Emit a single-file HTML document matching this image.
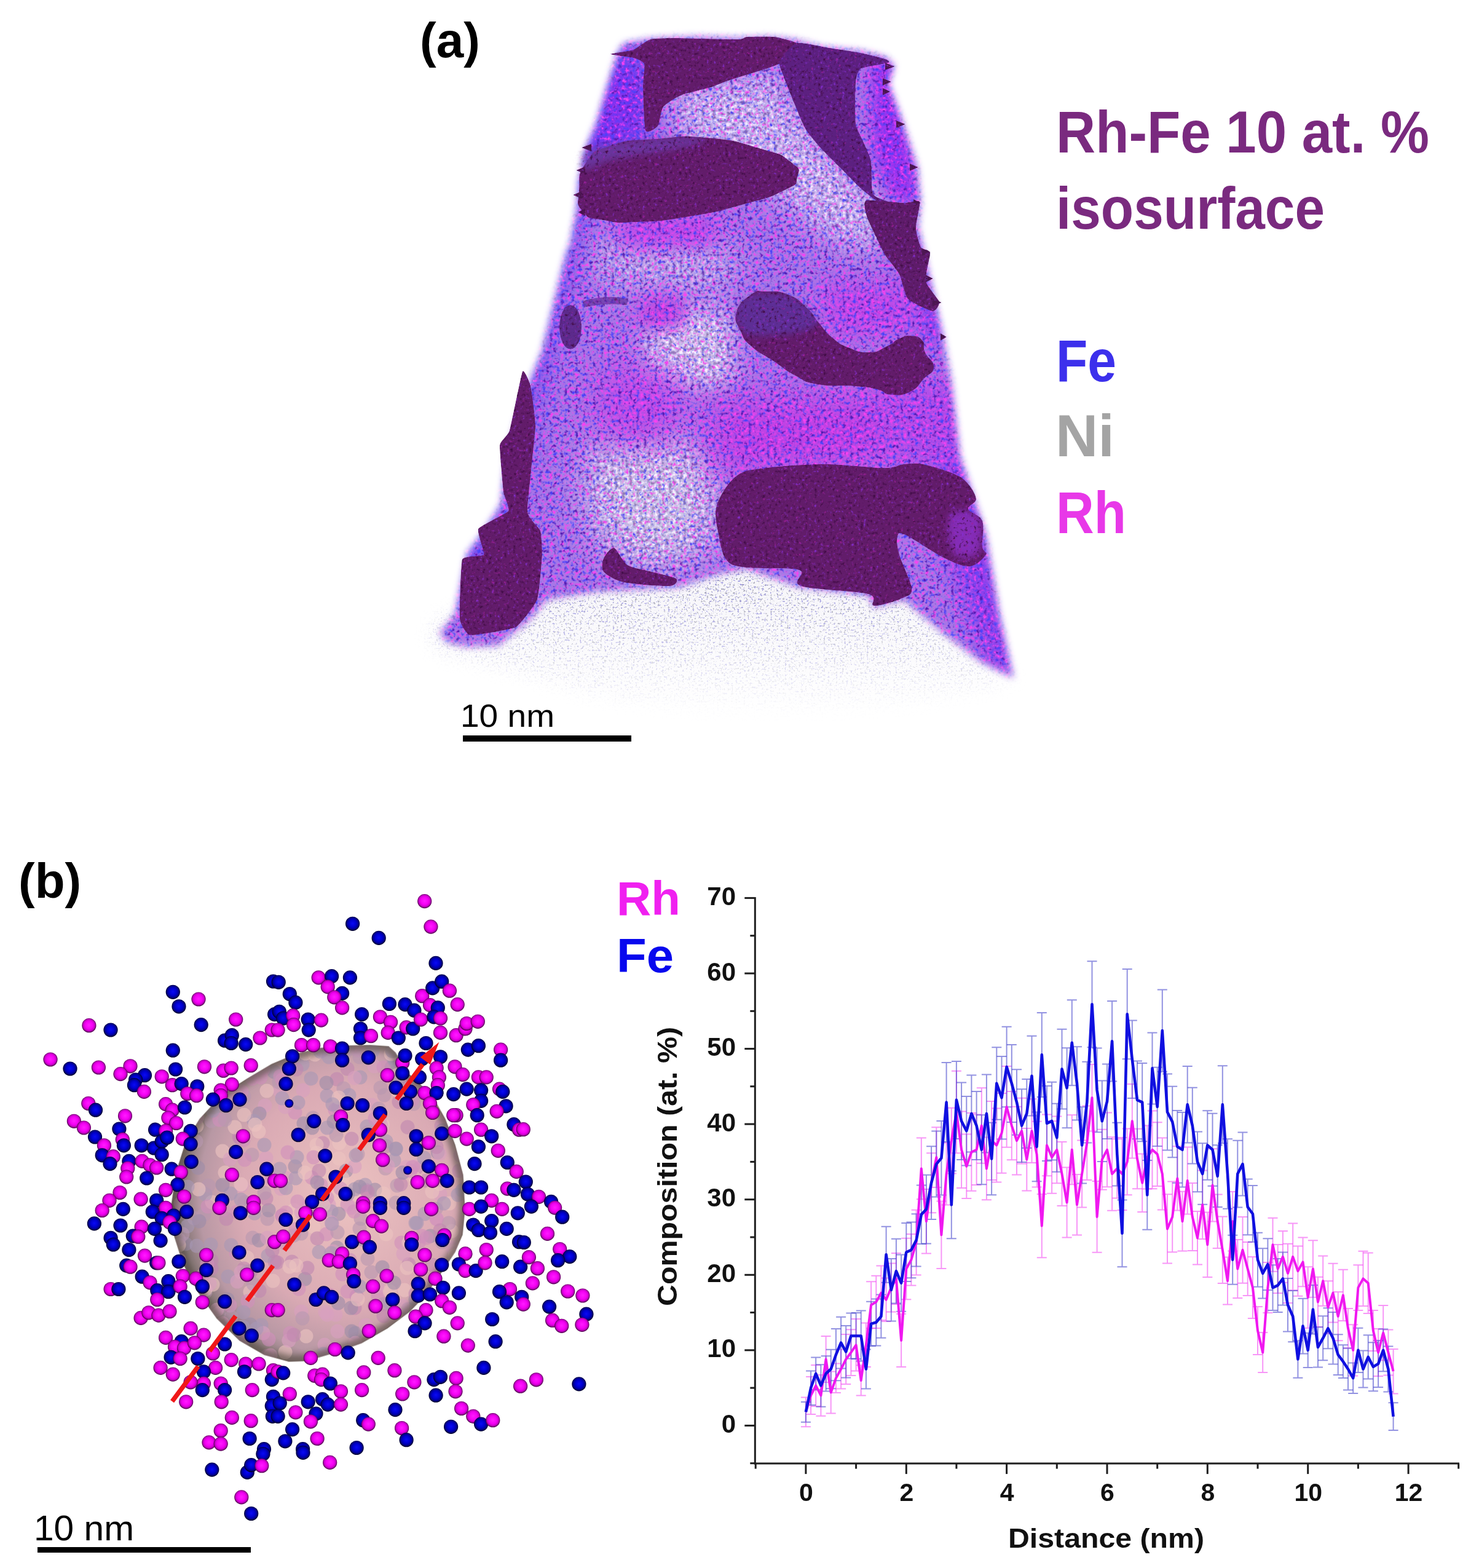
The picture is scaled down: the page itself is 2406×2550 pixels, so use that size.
<!DOCTYPE html><html><head><meta charset="utf-8"><style>html,body{margin:0;padding:0;background:#fff;width:2406px;height:2550px;overflow:hidden}svg{display:block}</style></head><body>
<svg width="2406" height="2550" viewBox="0 0 2406 2550">
<rect width="2406" height="2550" fill="#fff"/>
<defs>
<clipPath id="envc"><polygon points="1005.0,85.0 1015.0,70.0 1060.0,62.0 1130.0,59.0 1200.0,61.0 1250.0,59.0 1290.0,63.0 1340.0,76.0 1400.0,82.0 1440.0,92.0 1455.0,106.0 1446.0,136.0 1469.0,200.0 1493.0,272.0 1498.0,330.0 1494.0,370.0 1512.0,450.0 1535.0,550.0 1548.0,620.0 1562.0,742.0 1604.0,870.0 1626.0,998.0 1649.0,1103.0 1598.0,1078.0 1534.0,1030.0 1470.0,975.0 1422.0,988.0 1412.0,968.0 1300.0,955.0 1214.0,925.0 1165.0,935.0 1104.0,955.0 970.0,962.0 890.0,975.0 860.0,1010.0 810.0,1050.0 760.0,1052.0 728.0,1045.0 715.0,1030.0 740.0,1000.0 748.0,960.0 760.0,900.0 790.0,860.0 815.0,820.0 825.0,735.0 849.0,654.0 870.0,600.0 881.0,573.0 901.0,492.0 921.0,411.0 927.0,398.0 938.0,340.0 941.0,296.0 954.0,238.0 970.0,200.0 989.0,136.0"/></clipPath>
<filter id="envsoft" filterUnits="userSpaceOnUse" x="600" y="0" width="1200" height="1250"><feGaussianBlur stdDeviation="6"/></filter>
<mask id="envm" maskUnits="userSpaceOnUse" x="600" y="0" width="1200" height="1250"><polygon points="1005.0,85.0 1015.0,70.0 1060.0,62.0 1130.0,59.0 1200.0,61.0 1250.0,59.0 1290.0,63.0 1340.0,76.0 1400.0,82.0 1440.0,92.0 1455.0,106.0 1446.0,136.0 1469.0,200.0 1493.0,272.0 1498.0,330.0 1494.0,370.0 1512.0,450.0 1535.0,550.0 1548.0,620.0 1562.0,742.0 1604.0,870.0 1626.0,998.0 1649.0,1103.0 1598.0,1078.0 1534.0,1030.0 1470.0,975.0 1422.0,988.0 1412.0,968.0 1300.0,955.0 1214.0,925.0 1165.0,935.0 1104.0,955.0 970.0,962.0 890.0,975.0 860.0,1010.0 810.0,1050.0 760.0,1052.0 728.0,1045.0 715.0,1030.0 740.0,1000.0 748.0,960.0 760.0,900.0 790.0,860.0 815.0,820.0 825.0,735.0 849.0,654.0 870.0,600.0 881.0,573.0 901.0,492.0 921.0,411.0 927.0,398.0 938.0,340.0 941.0,296.0 954.0,238.0 970.0,200.0 989.0,136.0" fill="#fff" filter="url(#envsoft)"/></mask>
<filter id="bl6" filterUnits="userSpaceOnUse" x="600" y="0" width="1200" height="1250"><feGaussianBlur stdDeviation="6"/></filter>
<filter id="bl12" filterUnits="userSpaceOnUse" x="600" y="0" width="1200" height="1250"><feGaussianBlur stdDeviation="12"/></filter>
<filter id="bl15" filterUnits="userSpaceOnUse" x="600" y="0" width="1200" height="1250"><feGaussianBlur stdDeviation="15"/></filter>
<filter id="bl18" filterUnits="userSpaceOnUse" x="600" y="0" width="1200" height="1250"><feGaussianBlur stdDeviation="18"/></filter>
<filter id="bl20" filterUnits="userSpaceOnUse" x="600" y="0" width="1200" height="1250"><feGaussianBlur stdDeviation="20"/></filter>
<filter id="bl25" filterUnits="userSpaceOnUse" x="600" y="0" width="1200" height="1250"><feGaussianBlur stdDeviation="25"/></filter>
<filter id="bl30" filterUnits="userSpaceOnUse" x="600" y="0" width="1200" height="1250"><feGaussianBlur stdDeviation="30"/></filter>
<filter id="tex" filterUnits="userSpaceOnUse" x="600" y="0" width="1200" height="1250" color-interpolation-filters="sRGB">
<feTurbulence type="fractalNoise" baseFrequency="0.17" numOctaves="2" seed="4" result="n"/>
<feColorMatrix in="SourceGraphic" type="matrix" values="0 0 0 0 1  0 0 0 0 1  0 0 0 0 1  1.6 3.2 0.6 0 -3.1" result="Lm"/>
<feColorMatrix in="SourceGraphic" type="matrix" values="0 0 0 0 1  0 0 0 0 1  0 0 0 0 1  -1.6 -3.2 -0.6 0 4.4" result="Dm"/>
<feColorMatrix in="n" type="matrix" values="0 0 0 0 0.97  0 0 0 0 0.94  0 0 0 0 1  4 0 0 0 -2.05" result="lt0"/>
<feComposite in="lt0" in2="Lm" operator="in" result="lt"/>
<feColorMatrix in="n" type="matrix" values="0 0 0 0 0.62  0 0 0 0 0.58  0 0 0 0 0.7  -4 0 0 0 1.75" result="gy0"/>
<feComposite in="gy0" in2="Lm" operator="in" result="gy"/>
<feColorMatrix in="n" type="matrix" values="0 0 0 0 0.32  0 0 0 0 0.1  0 0 0 0 0.7  -4 0 0 0 1.75" result="dk0"/>
<feComposite in="dk0" in2="Dm" operator="in" result="dk"/>
<feColorMatrix in="n" type="matrix" values="0 0 0 0 0.30  0 0 0 0 0.26  0 0 0 0 0.98  0 4 0 0 -2.15" result="bl"/>
<feColorMatrix in="n" type="matrix" values="0 0 0 0 0.98  0 0 0 0 0.25  0 0 0 0 0.95  0 -4 0 0 1.85" result="mg"/>
<feMerge result="m"><feMergeNode in="SourceGraphic"/><feMergeNode in="bl"/><feMergeNode in="mg"/><feMergeNode in="lt"/><feMergeNode in="gy"/><feMergeNode in="dk"/></feMerge>
<feComposite in="m" in2="SourceGraphic" operator="in"/>
</filter>
<filter id="btex" filterUnits="userSpaceOnUse" x="600" y="0" width="1200" height="1250" color-interpolation-filters="sRGB">
<feTurbulence type="fractalNoise" baseFrequency="0.2" numOctaves="2" seed="9" result="n"/>
<feColorMatrix in="n" type="matrix" values="0 0 0 0 0.52  0 0 0 0 0.18  0 0 0 0 0.82  4 0 0 0 -2.5" result="a"/>
<feColorMatrix in="n" type="matrix" values="0 0 0 0 0.62  0 0 0 0 0.12  0 0 0 0 0.6  0 4 0 0 -2.6" result="c"/>
<feColorMatrix in="n" type="matrix" values="0 0 0 0 0.26  0 0 0 0 0.05  0 0 0 0 0.28  -4 0 0 0 1.7" result="b"/>
<feMerge result="m"><feMergeNode in="SourceGraphic"/><feMergeNode in="a"/><feMergeNode in="c"/><feMergeNode in="b"/></feMerge>
<feComposite in="m" in2="SourceGraphic" operator="in"/>
</filter>
<filter id="sparsef" filterUnits="userSpaceOnUse" x="600" y="880" width="1200" height="320" color-interpolation-filters="sRGB">
<feTurbulence type="fractalNoise" baseFrequency="0.3" numOctaves="2" seed="3" result="n"/>
<feColorMatrix in="n" type="matrix" values="0 0 0 0 0.6  0 0 0 0 0.6  0 0 0 0 0.68  8 0 0 0 -4.9" result="g"/>
<feColorMatrix in="n" type="matrix" values="0 0 0 0 0.55  0 0 0 0 0.53  0 0 0 0 0.85  0 8 0 0 -5.0" result="b"/>
<feMerge result="m"><feMergeNode in="g"/><feMergeNode in="b"/></feMerge>
<feComposite in="m" in2="SourceGraphic" operator="in"/>
</filter>
<linearGradient id="spg" gradientUnits="userSpaceOnUse" x1="0" y1="930" x2="0" y2="1160"><stop offset="0" stop-color="#fff" stop-opacity="1"/><stop offset="0.45" stop-color="#fff" stop-opacity="0.55"/><stop offset="1" stop-color="#fff" stop-opacity="0"/></linearGradient>
<mask id="spm" maskUnits="userSpaceOnUse" x="600" y="880" width="1200" height="320"><polygon points="700.0,1040.0 715.0,1010.0 760.0,990.0 860.0,960.0 970.0,945.0 1104.0,940.0 1165.0,920.0 1214.0,910.0 1300.0,940.0 1412.0,950.0 1470.0,960.0 1534.0,1020.0 1598.0,1070.0 1655.0,1105.0 1500.0,1140.0 1340.0,1158.0 1126.0,1158.0 966.0,1132.0 860.0,1096.0 716.0,1058.0" fill="url(#spg)" filter="url(#bl15)"/></mask>
</defs>
<g mask="url(#spm)"><rect x="600" y="880" width="1200" height="320" fill="#eeecf4" opacity="0.55"/><rect x="600" y="880" width="1200" height="320" fill="#000" filter="url(#sparsef)"/></g>
<g mask="url(#envm)"><g filter="url(#tex)">
<rect x="600" y="0" width="1200" height="1250" fill="#a878e6"/>
<polygon points="995.0,70.0 1050.0,70.0 1050.0,230.0 960.0,300.0 930.0,420.0 900.0,520.0 870.0,640.0 840.0,760.0 800.0,880.0 740.0,1000.0 700.0,1000.0 900.0,60.0" fill="#6a3cf0" filter="url(#bl25)"/>
<polygon points="960.0,120.0 1045.0,110.0 1045.0,220.0 960.0,240.0" fill="#8030f0" filter="url(#bl18)"/>
<polygon points="1415.0,95.0 1465.0,100.0 1495.0,330.0 1450.0,330.0 1420.0,250.0" fill="#9a30f0" filter="url(#bl12)"/>
<polygon points="1470.0,380.0 1540.0,380.0 1560.0,560.0 1500.0,560.0" fill="#8a38ee" filter="url(#bl20)"/>
<polygon points="1500.0,640.0 1580.0,640.0 1660.0,1100.0 1610.0,1100.0 1540.0,900.0" fill="#8e3cec" filter="url(#bl20)"/>
<polygon points="1090.0,150.0 1260.0,120.0 1300.0,200.0 1380.0,280.0 1450.0,360.0 1410.0,410.0 1330.0,370.0 1260.0,310.0 1200.0,255.0 1110.0,225.0" fill="#c4b4ec" filter="url(#bl25)"/>
<polygon points="960.0,390.0 1150.0,380.0 1210.0,430.0 1160.0,475.0 1050.0,470.0 980.0,460.0" fill="#b8a4e6" filter="url(#bl25)"/>
<polygon points="1050.0,512.0 1180.0,505.0 1195.0,628.0 1055.0,632.0" fill="#ccc4e8" filter="url(#bl20)"/>
<polygon points="1040.0,485.0 1112.0,483.0 1112.0,533.0 1040.0,535.0" fill="#c040e0" filter="url(#bl15)"/>
<polygon points="965.0,720.0 1100.0,700.0 1170.0,760.0 1150.0,900.0 1060.0,920.0 995.0,900.0 955.0,820.0" fill="#c8c2e4" filter="url(#bl30)"/>
<polygon points="1000.0,355.0 1170.0,350.0 1160.0,400.0 1010.0,400.0" fill="#c040e8" filter="url(#bl18)"/>
<polygon points="970.0,600.0 1110.0,600.0 1100.0,720.0 980.0,720.0" fill="#c048e6" filter="url(#bl30)"/>
<polygon points="1150.0,650.0 1450.0,640.0 1480.0,700.0 1430.0,760.0 1160.0,770.0" fill="#c040e4" filter="url(#bl30)"/>
<polygon points="1330.0,460.0 1480.0,460.0 1500.0,540.0 1350.0,550.0" fill="#bc48e8" filter="url(#bl20)"/>
<polygon points="1420.0,620.0 1560.0,620.0 1580.0,760.0 1440.0,760.0" fill="#b44ce8" filter="url(#bl25)"/>
</g></g>
<g filter="url(#btex)">
<path d="M993.0,88.0C993.0,86.7 1023.5,83.4 1030.0,81.0C1036.5,78.6 1051.0,65.9 1058.0,64.0C1065.0,62.1 1085.8,62.0 1100.0,62.0C1114.2,62.0 1188.5,64.2 1200.0,64.0C1211.5,63.8 1209.0,60.4 1215.0,60.0C1221.0,59.6 1251.9,59.0 1260.0,60.0C1268.1,61.0 1292.4,67.0 1296.0,70.0C1299.6,73.0 1300.4,86.0 1296.0,90.0C1291.6,94.0 1262.8,106.0 1252.0,110.0C1241.2,114.0 1197.6,126.8 1188.0,130.0C1178.4,133.2 1164.0,139.5 1156.0,142.0C1148.0,144.5 1115.7,151.8 1108.0,155.0C1100.3,158.2 1082.8,169.0 1079.0,174.0C1075.2,179.0 1072.9,201.2 1070.0,205.0C1067.1,208.8 1052.4,218.5 1050.0,212.0C1047.6,205.5 1046.2,150.8 1046.0,140.0C1045.8,129.2 1049.6,108.6 1048.0,104.0C1046.4,99.4 1035.5,95.6 1030.0,94.0C1024.5,92.4 993.0,89.3 993.0,88.0Z" fill="#621c6a"/>
<path d="M942.0,310.0C943.5,286.3 937.7,286.9 953.0,265.0C968.3,243.1 959.1,248.7 993.0,237.0C1026.9,225.3 1018.6,229.9 1066.0,226.0C1113.4,222.1 1100.3,219.5 1151.0,224.0C1201.7,228.5 1194.5,229.3 1235.0,241.0C1275.5,252.7 1267.4,248.9 1286.0,263.0C1304.6,277.1 1300.3,273.9 1297.0,288.0C1293.7,302.1 1302.0,296.5 1275.0,310.0C1248.0,323.5 1252.9,320.4 1207.0,333.0C1161.1,345.6 1172.7,343.6 1122.0,352.0C1071.3,360.4 1080.0,359.2 1038.0,361.0C996.0,362.8 1009.0,363.1 982.0,358.0C955.0,352.9 960.0,358.4 948.0,344.0C936.0,329.6 940.5,333.7 942.0,310.0Z" fill="#621c6a"/>
<path d="M1296.0,70.0C1304.2,67.8 1339.6,76.4 1350.0,78.0C1360.4,79.6 1391.0,84.2 1400.0,86.0C1409.0,87.8 1435.5,94.4 1440.0,96.0C1444.5,97.6 1449.0,100.4 1445.0,102.0C1441.0,103.6 1405.3,108.7 1400.0,112.0C1394.7,115.3 1392.8,126.2 1392.0,135.0C1391.2,143.8 1390.7,190.3 1392.0,200.0C1393.3,209.7 1402.5,225.8 1405.0,232.0C1407.5,238.2 1415.5,253.7 1417.0,262.0C1418.5,270.3 1417.2,308.4 1420.0,315.0C1422.8,321.6 1441.4,325.9 1445.0,328.0C1448.6,330.1 1457.1,335.6 1456.0,336.0C1454.9,336.4 1439.4,334.8 1434.0,332.0C1428.6,329.2 1408.4,313.6 1402.0,308.0C1395.6,302.4 1376.4,282.4 1370.0,276.0C1363.6,269.6 1343.9,250.5 1338.0,244.0C1332.1,237.5 1315.6,218.6 1311.0,211.0C1306.4,203.4 1295.6,176.6 1292.0,168.0C1288.4,159.4 1277.4,131.8 1275.0,125.0C1272.6,118.2 1265.9,105.5 1268.0,100.0C1270.1,94.5 1287.8,72.2 1296.0,70.0Z" fill="#5c2080"/>
<path d="M1409.0,326.0C1415.0,323.8 1461.3,329.8 1470.0,330.0C1478.7,330.2 1494.0,324.0 1496.0,328.0C1498.0,332.0 1489.8,362.6 1490.0,370.0C1490.2,377.4 1495.7,397.9 1498.0,402.0C1500.3,406.1 1512.2,405.5 1513.0,411.0C1513.8,416.5 1504.5,449.0 1506.0,457.0C1507.5,465.0 1526.9,486.1 1528.0,491.0C1529.1,495.9 1522.1,506.5 1517.0,506.0C1511.9,505.5 1482.4,492.0 1477.0,486.0C1471.6,480.0 1466.7,453.1 1463.0,446.0C1459.3,438.9 1443.8,421.1 1440.0,415.0C1436.2,408.9 1428.0,391.3 1425.0,385.0C1422.0,378.7 1411.6,357.9 1410.0,352.0C1408.4,346.1 1403.0,328.2 1409.0,326.0Z" fill="#5e1c6a"/>
<path d="M1198.0,508.0C1202.5,492.0 1209.2,488.1 1222.0,479.0C1234.8,469.9 1230.0,474.0 1246.0,474.0C1262.0,474.0 1264.1,471.8 1282.0,479.0C1299.9,486.2 1299.7,488.7 1313.0,501.0C1326.3,513.3 1321.1,512.2 1332.0,525.0C1342.9,537.8 1341.2,538.3 1354.0,549.0C1366.8,559.7 1364.0,558.6 1380.0,565.0C1396.0,571.4 1397.2,573.5 1414.0,573.0C1430.8,572.5 1430.2,568.9 1443.0,563.0C1455.8,557.1 1451.9,555.5 1462.0,551.0C1472.1,546.5 1470.9,545.5 1481.0,546.0C1491.1,546.5 1493.6,545.8 1500.0,553.0C1506.4,560.2 1499.9,561.3 1505.0,573.0C1510.1,584.7 1519.5,585.5 1519.0,597.0C1518.5,608.5 1513.1,605.3 1503.0,616.0C1492.9,626.7 1495.1,630.1 1481.0,637.0C1466.9,643.9 1464.7,643.1 1450.0,642.0C1435.3,640.9 1442.0,636.7 1426.0,633.0C1410.0,629.3 1415.6,630.1 1390.0,628.0C1364.4,625.9 1355.6,629.5 1330.0,625.0C1304.4,620.5 1313.2,621.1 1294.0,611.0C1274.8,600.9 1277.2,599.8 1258.0,587.0C1238.8,574.2 1236.1,575.8 1222.0,563.0C1207.9,550.2 1211.4,553.7 1205.0,539.0C1198.6,524.3 1193.5,524.0 1198.0,508.0Z" fill="#621c6a"/>
<path d="M1198.0,774.0C1184.7,784.2 1170.8,806.0 1166.0,822.0C1161.2,838.0 1166.3,855.2 1169.0,870.0C1171.7,884.8 1174.5,902.2 1182.0,911.0C1189.5,919.8 1194.3,920.3 1214.0,923.0C1233.7,925.7 1285.2,922.0 1300.0,927.0C1314.8,932.0 1284.3,946.5 1303.0,953.0C1321.7,959.5 1392.2,960.7 1412.0,966.0C1431.8,971.3 1412.3,984.0 1422.0,985.0C1431.7,986.0 1459.8,976.8 1470.0,972.0C1480.2,967.2 1484.2,967.7 1483.0,956.0C1481.8,944.3 1466.8,915.8 1463.0,902.0C1459.2,888.2 1458.3,878.3 1460.0,873.0C1461.7,867.7 1460.2,864.2 1473.0,870.0C1485.8,875.8 1519.5,899.5 1537.0,908.0C1554.5,916.5 1566.8,922.0 1578.0,921.0C1589.2,920.0 1600.7,907.3 1604.0,902.0C1607.3,896.7 1599.0,898.2 1598.0,889.0C1597.0,879.8 1601.8,857.2 1598.0,847.0C1594.2,836.8 1576.7,833.8 1575.0,828.0C1573.3,822.2 1588.0,818.8 1588.0,812.0C1588.0,805.2 1580.8,793.8 1575.0,787.0C1569.2,780.2 1565.2,776.3 1553.0,771.0C1540.8,765.7 1515.8,757.7 1502.0,755.0C1488.2,752.3 1480.7,754.0 1470.0,755.0C1459.3,756.0 1459.3,761.0 1438.0,761.0C1416.7,761.0 1374.0,755.0 1342.0,755.0C1310.0,755.0 1270.0,757.8 1246.0,761.0C1222.0,764.2 1211.3,763.8 1198.0,774.0Z" fill="#621c6a"/>
<path d="M850.0,604.0C852.3,599.1 861.6,621.0 863.0,627.0C864.4,633.0 871.3,680.4 871.0,694.0C870.7,707.6 857.5,819.7 858.0,831.0C858.5,842.3 877.4,858.3 879.0,863.0C880.6,867.7 882.3,894.5 882.0,902.0C881.7,909.5 876.9,967.1 874.0,975.0C871.1,982.9 846.3,1016.1 839.0,1020.0C831.7,1023.9 771.1,1033.9 765.0,1033.0C758.9,1032.1 748.9,1015.2 748.0,1007.0C747.1,998.8 749.4,917.0 752.0,910.0C754.6,903.0 785.3,905.3 787.0,902.0C788.7,898.7 775.3,864.7 778.0,860.0C780.7,855.3 824.3,835.0 827.0,831.0C829.7,827.0 819.9,807.1 819.0,800.0C818.1,792.9 812.3,730.7 813.0,724.0C813.7,717.3 826.5,708.0 829.0,700.0C831.5,692.0 847.7,608.9 850.0,604.0Z" fill="#621c6a"/>
<path d="M982.0,908.0C984.3,902.8 993.8,889.5 999.0,891.0C1004.2,892.5 1012.7,913.8 1021.0,919.0C1029.3,924.2 1050.5,927.1 1061.0,930.0C1071.5,932.9 1096.3,937.9 1100.0,941.0C1103.7,944.1 1100.3,952.2 1089.0,953.0C1077.7,953.8 1029.3,950.1 1015.0,947.0C1000.7,943.9 986.4,935.2 982.0,930.0C977.6,924.8 979.7,913.2 982.0,908.0Z" fill="#621c6a"/>
<path d="M955.0,240.0C970.8,230.6 1000.0,231.4 1029.0,228.0C1058.0,224.6 1075.8,223.4 1100.0,223.0C1124.2,222.6 1148.0,222.6 1150.0,226.0C1152.0,229.4 1132.0,234.8 1110.0,240.0C1088.0,245.2 1064.0,247.6 1040.0,252.0C1016.0,256.4 1008.0,257.4 990.0,262.0C972.0,266.6 957.0,279.4 950.0,275.0C943.0,270.6 939.2,249.4 955.0,240.0Z" fill="#6a3aa8" opacity="0.8" filter="url(#bl6)"/>
<path d="M1197.0,505.0C1199.4,493.0 1205.4,485.0 1222.0,480.0C1238.6,475.0 1260.8,475.8 1280.0,480.0C1299.2,484.2 1308.0,492.0 1318.0,501.0C1328.0,510.0 1333.6,517.2 1330.0,525.0C1326.4,532.8 1316.0,536.0 1300.0,540.0C1284.0,544.0 1268.0,545.0 1250.0,545.0C1232.0,545.0 1220.6,548.0 1210.0,540.0C1199.4,532.0 1194.6,517.0 1197.0,505.0Z" fill="#5c34a4" opacity="0.75" filter="url(#bl6)"/>
<ellipse cx="928" cy="532" rx="18" ry="36" fill="#5c2a8c"/>
<path d="M1548.0,835.0C1557.0,826.6 1580.4,831.0 1590.0,838.0C1599.6,845.0 1596.0,857.6 1596.0,870.0C1596.0,882.4 1597.2,893.0 1590.0,900.0C1582.8,907.0 1569.0,909.0 1560.0,905.0C1551.0,901.0 1547.4,894.0 1545.0,880.0C1542.6,866.0 1539.0,843.4 1548.0,835.0Z" fill="#9030d0" opacity="0.75" filter="url(#bl6)"/>
<polygon points="1440,102 1456,108 1440,114" fill="#4c1652"/>
<polygon points="1436,127 1450,133 1436,139" fill="#4c1652"/>
<polygon points="1436,143 1448,149 1436,155" fill="#4c1652"/>
<polygon points="1458,196 1473,202 1458,208" fill="#4c1652"/>
<polygon points="1480,266 1494,272 1480,278" fill="#4c1652"/>
<polygon points="1486,324 1498,330 1486,336" fill="#4c1652"/>
<polygon points="1500,404 1514,410 1500,416" fill="#4c1652"/>
<polygon points="1506,447 1518,453 1506,459" fill="#4c1652"/>
<polygon points="1518,486 1532,492 1518,498" fill="#4c1652"/>
<polygon points="1530,542 1540,548 1530,554" fill="#4c1652"/>
<polygon points="962,234 946,240 962,246" fill="#4c1652"/>
<polygon points="952,271 937,277 952,283" fill="#4c1652"/>
<polygon points="946,311 932,317 946,323" fill="#4c1652"/>
<polygon points="952,339 940,345 952,351" fill="#4c1652"/>
<path d="M948,490 Q985,478 1022,486 L1020,496 Q985,492 950,500Z" fill="#5a2a96" opacity="0.8"/>
</g>
<text x="683" y="93" font-family="Liberation Sans, Arial, sans-serif" font-weight="bold" font-size="80" fill="#000">(a)</text>
<text x="1718" y="248" font-family="Liberation Sans, Arial, sans-serif" font-weight="bold" font-size="96" fill="#7a2a7f" textLength="607" lengthAdjust="spacingAndGlyphs">Rh-Fe 10 at. %</text>
<text x="1718" y="372" font-family="Liberation Sans, Arial, sans-serif" font-weight="bold" font-size="96" fill="#7a2a7f" textLength="437" lengthAdjust="spacingAndGlyphs">isosurface</text>
<text x="1718" y="620" font-family="Liberation Sans, Arial, sans-serif" font-weight="bold" font-size="96" fill="#3c30ec" textLength="98" lengthAdjust="spacingAndGlyphs">Fe</text>
<text x="1717" y="742" font-family="Liberation Sans, Arial, sans-serif" font-weight="bold" font-size="96" fill="#a4a4a4" textLength="96" lengthAdjust="spacingAndGlyphs">Ni</text>
<text x="1718" y="867" font-family="Liberation Sans, Arial, sans-serif" font-weight="bold" font-size="96" fill="#e838e8" textLength="114" lengthAdjust="spacingAndGlyphs">Rh</text>
<text x="749" y="1182" font-family="Liberation Sans, Arial, sans-serif" font-size="52" fill="#000" textLength="153" lengthAdjust="spacingAndGlyphs">10 nm</text>
<rect x="753" y="1196" width="274" height="10" fill="#000"/>
<text x="30" y="1460" font-family="Liberation Sans, Arial, sans-serif" font-weight="bold" font-size="80" fill="#000">(b)</text>
<text x="55" y="2505" font-family="Liberation Sans, Arial, sans-serif" font-size="58" fill="#000" textLength="163" lengthAdjust="spacingAndGlyphs">10 nm</text>
<rect x="61" y="2516" width="347" height="9" fill="#000"/>
<text x="1003" y="1488" font-family="Liberation Sans, Arial, sans-serif" font-weight="bold" font-size="77" fill="#f020f0" textLength="104" lengthAdjust="spacingAndGlyphs">Rh</text>
<text x="1003" y="1581" font-family="Liberation Sans, Arial, sans-serif" font-weight="bold" font-size="77" fill="#0808ee" textLength="93" lengthAdjust="spacingAndGlyphs">Fe</text>
<defs>
<clipPath id="partc"><polygon points="278.0,1967.0 287.0,1906.0 303.0,1856.0 325.0,1820.0 361.0,1781.0 403.0,1754.0 442.0,1731.0 480.0,1715.0 519.0,1705.0 560.0,1701.0 602.0,1700.0 632.0,1702.0 643.0,1712.0 663.0,1745.0 702.0,1781.0 724.0,1820.0 740.0,1862.0 753.0,1911.0 756.0,1967.0 752.0,2008.0 740.0,2036.0 718.0,2069.0 693.0,2105.0 666.0,2133.0 630.0,2160.0 588.0,2184.0 543.0,2200.0 498.0,2213.0 470.0,2214.0 430.0,2203.0 390.0,2180.0 353.0,2144.0 323.0,2102.0 298.0,2055.0 284.0,2011.0"/></clipPath>
<filter id="rimblur" filterUnits="userSpaceOnUse" x="200" y="1600" width="650" height="700"><feGaussianBlur stdDeviation="5"/></filter>
<radialGradient id="pg" cx="0.6" cy="0.48" r="0.6"><stop offset="0" stop-color="#ecc2c0"/><stop offset="0.6" stop-color="#daaab4"/><stop offset="0.84" stop-color="#b898a4"/><stop offset="0.95" stop-color="#827472"/><stop offset="1" stop-color="#5c524e"/></radialGradient>
<radialGradient id="gm" cx="0.5" cy="0.48" r="0.5"><stop offset="0" stop-color="#ff1cff"/><stop offset="0.55" stop-color="#f400f4"/><stop offset="0.8" stop-color="#c800c8"/><stop offset="0.93" stop-color="#80007e"/><stop offset="1" stop-color="#500050"/></radialGradient>
<radialGradient id="gb" cx="0.5" cy="0.48" r="0.5"><stop offset="0" stop-color="#0a0af4"/><stop offset="0.5" stop-color="#0000d0"/><stop offset="0.8" stop-color="#00008e"/><stop offset="0.93" stop-color="#000050"/><stop offset="1" stop-color="#000028"/></radialGradient>
</defs>
<polygon points="278.0,1967.0 287.0,1906.0 303.0,1856.0 325.0,1820.0 361.0,1781.0 403.0,1754.0 442.0,1731.0 480.0,1715.0 519.0,1705.0 560.0,1701.0 602.0,1700.0 632.0,1702.0 643.0,1712.0 663.0,1745.0 702.0,1781.0 724.0,1820.0 740.0,1862.0 753.0,1911.0 756.0,1967.0 752.0,2008.0 740.0,2036.0 718.0,2069.0 693.0,2105.0 666.0,2133.0 630.0,2160.0 588.0,2184.0 543.0,2200.0 498.0,2213.0 470.0,2214.0 430.0,2203.0 390.0,2180.0 353.0,2144.0 323.0,2102.0 298.0,2055.0 284.0,2011.0" fill="url(#pg)" stroke="#7a6a66" stroke-width="2" stroke-opacity="0.6"/>
<g clip-path="url(#partc)">
<circle cx="495" cy="1988" r="11.5" fill="#ecc4c0" opacity="0.62"/>
<circle cx="502" cy="1961" r="11.5" fill="#d8a0c0" opacity="0.62"/>
<circle cx="370" cy="2113" r="11.5" fill="#9c8ca8" opacity="0.62"/>
<circle cx="580" cy="2108" r="11.5" fill="#c088b0" opacity="0.62"/>
<circle cx="493" cy="1773" r="11.5" fill="#d8a0c0" opacity="0.62"/>
<circle cx="665" cy="2056" r="11.5" fill="#c088b0" opacity="0.62"/>
<circle cx="563" cy="1904" r="11.5" fill="#9c8ca8" opacity="0.62"/>
<circle cx="591" cy="2016" r="11.5" fill="#a898b4" opacity="0.62"/>
<circle cx="577" cy="2127" r="11.5" fill="#c088b0" opacity="0.62"/>
<circle cx="308" cy="1798" r="11.5" fill="#a898b4" opacity="0.62"/>
<circle cx="565" cy="2100" r="11.5" fill="#d090bc" opacity="0.62"/>
<circle cx="490" cy="2133" r="11.5" fill="#d8a0c0" opacity="0.62"/>
<circle cx="391" cy="1851" r="11.5" fill="#c088b0" opacity="0.62"/>
<circle cx="595" cy="1935" r="11.5" fill="#d090bc" opacity="0.62"/>
<circle cx="474" cy="1983" r="11.5" fill="#ecc4c0" opacity="0.62"/>
<circle cx="320" cy="1831" r="11.5" fill="#ecc4c0" opacity="0.62"/>
<circle cx="389" cy="1849" r="11.5" fill="#c088b0" opacity="0.62"/>
<circle cx="548" cy="1755" r="11.5" fill="#c088b0" opacity="0.62"/>
<circle cx="683" cy="1899" r="11.5" fill="#c088b0" opacity="0.62"/>
<circle cx="683" cy="1700" r="11.5" fill="#a898b4" opacity="0.62"/>
<circle cx="721" cy="1727" r="11.5" fill="#9c8ca8" opacity="0.62"/>
<circle cx="747" cy="1904" r="11.5" fill="#c088b0" opacity="0.62"/>
<circle cx="550" cy="1802" r="11.5" fill="#b898b0" opacity="0.62"/>
<circle cx="408" cy="1745" r="11.5" fill="#d090bc" opacity="0.62"/>
<circle cx="287" cy="1911" r="11.5" fill="#c088b0" opacity="0.62"/>
<circle cx="344" cy="2063" r="11.5" fill="#c088b0" opacity="0.62"/>
<circle cx="309" cy="2110" r="11.5" fill="#a898b4" opacity="0.62"/>
<circle cx="605" cy="1797" r="11.5" fill="#d8a0c0" opacity="0.62"/>
<circle cx="371" cy="2076" r="11.5" fill="#a898b4" opacity="0.62"/>
<circle cx="480" cy="1897" r="11.5" fill="#9c8ca8" opacity="0.62"/>
<circle cx="480" cy="1809" r="11.5" fill="#d090bc" opacity="0.62"/>
<circle cx="691" cy="2201" r="11.5" fill="#d8a0c0" opacity="0.62"/>
<circle cx="425" cy="2155" r="11.5" fill="#a898b4" opacity="0.62"/>
<circle cx="369" cy="2212" r="11.5" fill="#d8a0c0" opacity="0.62"/>
<circle cx="586" cy="1752" r="11.5" fill="#a898b4" opacity="0.62"/>
<circle cx="382" cy="1833" r="11.5" fill="#ecc4c0" opacity="0.62"/>
<circle cx="571" cy="2127" r="11.5" fill="#9c8ca8" opacity="0.62"/>
<circle cx="315" cy="1746" r="11.5" fill="#d8a0c0" opacity="0.62"/>
<circle cx="583" cy="1708" r="11.5" fill="#d090bc" opacity="0.62"/>
<circle cx="457" cy="1933" r="11.5" fill="#d8a0c0" opacity="0.62"/>
<circle cx="510" cy="1995" r="11.5" fill="#ecc4c0" opacity="0.62"/>
<circle cx="464" cy="2022" r="11.5" fill="#d090bc" opacity="0.62"/>
<circle cx="712" cy="2120" r="11.5" fill="#a898b4" opacity="0.62"/>
<circle cx="625" cy="1781" r="11.5" fill="#b898b0" opacity="0.62"/>
<circle cx="728" cy="1801" r="11.5" fill="#9c8ca8" opacity="0.62"/>
<circle cx="700" cy="2010" r="11.5" fill="#9c8ca8" opacity="0.62"/>
<circle cx="303" cy="1756" r="11.5" fill="#d8a0c0" opacity="0.62"/>
<circle cx="738" cy="1823" r="11.5" fill="#b898b0" opacity="0.62"/>
<circle cx="466" cy="1916" r="11.5" fill="#d8a0c0" opacity="0.62"/>
<circle cx="514" cy="1967" r="11.5" fill="#b898b0" opacity="0.62"/>
<circle cx="745" cy="1765" r="11.5" fill="#9c8ca8" opacity="0.62"/>
<circle cx="546" cy="2138" r="11.5" fill="#d8a0c0" opacity="0.62"/>
<circle cx="315" cy="1809" r="11.5" fill="#a898b4" opacity="0.62"/>
<circle cx="637" cy="1736" r="11.5" fill="#9c8ca8" opacity="0.62"/>
<circle cx="492" cy="1731" r="11.5" fill="#a898b4" opacity="0.62"/>
<circle cx="414" cy="1973" r="11.5" fill="#a898b4" opacity="0.62"/>
<circle cx="324" cy="1771" r="11.5" fill="#9c8ca8" opacity="0.62"/>
<circle cx="747" cy="2038" r="11.5" fill="#b898b0" opacity="0.62"/>
<circle cx="528" cy="2187" r="11.5" fill="#d8a0c0" opacity="0.62"/>
<circle cx="297" cy="1709" r="11.5" fill="#d090bc" opacity="0.62"/>
<circle cx="614" cy="2195" r="11.5" fill="#c088b0" opacity="0.62"/>
<circle cx="565" cy="1738" r="11.5" fill="#c088b0" opacity="0.62"/>
<circle cx="628" cy="1864" r="11.5" fill="#c088b0" opacity="0.62"/>
<circle cx="316" cy="1981" r="11.5" fill="#b898b0" opacity="0.62"/>
<circle cx="301" cy="2181" r="11.5" fill="#b898b0" opacity="0.62"/>
<circle cx="615" cy="2108" r="11.5" fill="#d090bc" opacity="0.62"/>
<circle cx="447" cy="2052" r="11.5" fill="#c088b0" opacity="0.62"/>
<circle cx="695" cy="1914" r="11.5" fill="#ecc4c0" opacity="0.62"/>
<circle cx="294" cy="1957" r="11.5" fill="#c088b0" opacity="0.62"/>
<circle cx="577" cy="1897" r="11.5" fill="#d8a0c0" opacity="0.62"/>
<circle cx="286" cy="1737" r="11.5" fill="#c088b0" opacity="0.62"/>
<circle cx="584" cy="2211" r="11.5" fill="#9c8ca8" opacity="0.62"/>
<circle cx="627" cy="1900" r="11.5" fill="#b898b0" opacity="0.62"/>
<circle cx="610" cy="1935" r="11.5" fill="#9c8ca8" opacity="0.62"/>
<circle cx="679" cy="1743" r="11.5" fill="#ecc4c0" opacity="0.62"/>
<circle cx="525" cy="1859" r="11.5" fill="#c088b0" opacity="0.62"/>
<circle cx="509" cy="1818" r="11.5" fill="#b898b0" opacity="0.62"/>
<circle cx="334" cy="2101" r="11.5" fill="#b898b0" opacity="0.62"/>
<circle cx="718" cy="1831" r="11.5" fill="#c088b0" opacity="0.62"/>
<circle cx="455" cy="1774" r="11.5" fill="#d8a0c0" opacity="0.62"/>
<circle cx="376" cy="1787" r="11.5" fill="#d090bc" opacity="0.62"/>
<circle cx="594" cy="1927" r="11.5" fill="#a898b4" opacity="0.62"/>
<circle cx="436" cy="2042" r="11.5" fill="#a898b4" opacity="0.62"/>
<circle cx="582" cy="2113" r="11.5" fill="#ecc4c0" opacity="0.62"/>
<circle cx="715" cy="2152" r="11.5" fill="#9c8ca8" opacity="0.62"/>
<circle cx="385" cy="2173" r="11.5" fill="#a898b4" opacity="0.62"/>
<circle cx="345" cy="1955" r="11.5" fill="#ecc4c0" opacity="0.62"/>
<circle cx="706" cy="1721" r="11.5" fill="#c088b0" opacity="0.62"/>
<circle cx="732" cy="1842" r="11.5" fill="#a898b4" opacity="0.62"/>
<circle cx="334" cy="1942" r="11.5" fill="#a898b4" opacity="0.62"/>
<circle cx="676" cy="1897" r="11.5" fill="#d8a0c0" opacity="0.62"/>
<circle cx="515" cy="1862" r="11.5" fill="#ecc4c0" opacity="0.62"/>
<circle cx="681" cy="2021" r="11.5" fill="#d090bc" opacity="0.62"/>
<circle cx="316" cy="1716" r="11.5" fill="#ecc4c0" opacity="0.62"/>
<circle cx="569" cy="2049" r="11.5" fill="#d090bc" opacity="0.62"/>
<circle cx="552" cy="1859" r="11.5" fill="#ecc4c0" opacity="0.62"/>
<circle cx="548" cy="2029" r="11.5" fill="#9c8ca8" opacity="0.62"/>
<circle cx="497" cy="1713" r="11.5" fill="#ecc4c0" opacity="0.62"/>
<circle cx="407" cy="2101" r="11.5" fill="#ecc4c0" opacity="0.62"/>
<circle cx="302" cy="2023" r="11.5" fill="#9c8ca8" opacity="0.62"/>
<circle cx="332" cy="1975" r="11.5" fill="#b898b0" opacity="0.62"/>
<circle cx="664" cy="2193" r="11.5" fill="#b898b0" opacity="0.62"/>
<circle cx="374" cy="2123" r="11.5" fill="#d090bc" opacity="0.62"/>
<circle cx="365" cy="1706" r="11.5" fill="#9c8ca8" opacity="0.62"/>
<circle cx="535" cy="1719" r="11.5" fill="#a898b4" opacity="0.62"/>
<circle cx="410" cy="1878" r="11.5" fill="#b898b0" opacity="0.62"/>
<circle cx="731" cy="1957" r="11.5" fill="#ecc4c0" opacity="0.62"/>
<circle cx="356" cy="2136" r="11.5" fill="#b898b0" opacity="0.62"/>
<circle cx="711" cy="1745" r="11.5" fill="#b898b0" opacity="0.62"/>
<circle cx="465" cy="1932" r="11.5" fill="#a898b4" opacity="0.62"/>
<circle cx="578" cy="2168" r="11.5" fill="#9c8ca8" opacity="0.62"/>
<circle cx="542" cy="2035" r="11.5" fill="#d8a0c0" opacity="0.62"/>
<circle cx="659" cy="2185" r="11.5" fill="#9c8ca8" opacity="0.62"/>
<circle cx="435" cy="2205" r="11.5" fill="#c088b0" opacity="0.62"/>
<circle cx="624" cy="2121" r="11.5" fill="#b898b0" opacity="0.62"/>
<circle cx="720" cy="1763" r="11.5" fill="#a898b4" opacity="0.62"/>
<circle cx="708" cy="2204" r="11.5" fill="#d090bc" opacity="0.62"/>
<circle cx="536" cy="2106" r="11.5" fill="#d090bc" opacity="0.62"/>
<circle cx="405" cy="2069" r="11.5" fill="#c088b0" opacity="0.62"/>
<circle cx="446" cy="1743" r="11.5" fill="#9c8ca8" opacity="0.62"/>
<circle cx="443" cy="1917" r="11.5" fill="#d090bc" opacity="0.62"/>
<circle cx="512" cy="1715" r="11.5" fill="#ecc4c0" opacity="0.62"/>
<circle cx="693" cy="1920" r="11.5" fill="#c088b0" opacity="0.62"/>
<circle cx="362" cy="1872" r="11.5" fill="#ecc4c0" opacity="0.62"/>
<circle cx="716" cy="1942" r="11.5" fill="#d8a0c0" opacity="0.62"/>
<circle cx="709" cy="1966" r="11.5" fill="#b898b0" opacity="0.62"/>
<circle cx="608" cy="2186" r="11.5" fill="#9c8ca8" opacity="0.62"/>
<circle cx="556" cy="2054" r="11.5" fill="#ecc4c0" opacity="0.62"/>
<circle cx="385" cy="1971" r="11.5" fill="#d090bc" opacity="0.62"/>
<circle cx="676" cy="1989" r="11.5" fill="#a898b4" opacity="0.62"/>
<circle cx="529" cy="2134" r="11.5" fill="#d8a0c0" opacity="0.62"/>
<circle cx="402" cy="2045" r="11.5" fill="#ecc4c0" opacity="0.62"/>
<circle cx="694" cy="2013" r="11.5" fill="#d090bc" opacity="0.62"/>
<circle cx="685" cy="2198" r="11.5" fill="#d8a0c0" opacity="0.62"/>
<circle cx="410" cy="1956" r="11.5" fill="#9c8ca8" opacity="0.62"/>
<circle cx="535" cy="1959" r="11.5" fill="#d8a0c0" opacity="0.62"/>
<circle cx="459" cy="1977" r="11.5" fill="#c088b0" opacity="0.62"/>
<circle cx="526" cy="1906" r="11.5" fill="#ecc4c0" opacity="0.62"/>
<circle cx="751" cy="1763" r="11.5" fill="#c088b0" opacity="0.62"/>
<circle cx="609" cy="1734" r="11.5" fill="#d8a0c0" opacity="0.62"/>
<circle cx="498" cy="2173" r="11.5" fill="#ecc4c0" opacity="0.62"/>
<circle cx="720" cy="1838" r="11.5" fill="#9c8ca8" opacity="0.62"/>
<circle cx="515" cy="1875" r="11.5" fill="#ecc4c0" opacity="0.62"/>
<circle cx="725" cy="2173" r="11.5" fill="#d8a0c0" opacity="0.62"/>
<circle cx="431" cy="1798" r="11.5" fill="#d8a0c0" opacity="0.62"/>
<circle cx="294" cy="1834" r="11.5" fill="#b898b0" opacity="0.62"/>
<circle cx="651" cy="1712" r="11.5" fill="#a898b4" opacity="0.62"/>
<circle cx="354" cy="1706" r="11.5" fill="#d090bc" opacity="0.62"/>
<circle cx="433" cy="1883" r="11.5" fill="#d8a0c0" opacity="0.62"/>
<circle cx="517" cy="1957" r="11.5" fill="#d8a0c0" opacity="0.62"/>
<circle cx="338" cy="1962" r="11.5" fill="#d090bc" opacity="0.62"/>
<circle cx="622" cy="2061" r="11.5" fill="#9c8ca8" opacity="0.62"/>
<circle cx="291" cy="2025" r="11.5" fill="#ecc4c0" opacity="0.62"/>
<circle cx="532" cy="1782" r="11.5" fill="#a898b4" opacity="0.62"/>
<circle cx="691" cy="1974" r="11.5" fill="#a898b4" opacity="0.62"/>
<circle cx="532" cy="2138" r="11.5" fill="#d8a0c0" opacity="0.62"/>
<circle cx="559" cy="1770" r="11.5" fill="#b898b0" opacity="0.62"/>
<circle cx="579" cy="1879" r="11.5" fill="#a898b4" opacity="0.62"/>
<circle cx="430" cy="1862" r="11.5" fill="#a898b4" opacity="0.62"/>
<circle cx="384" cy="2213" r="11.5" fill="#c088b0" opacity="0.62"/>
<circle cx="344" cy="1823" r="11.5" fill="#b898b0" opacity="0.62"/>
<circle cx="322" cy="1899" r="11.5" fill="#9c8ca8" opacity="0.62"/>
<circle cx="676" cy="1917" r="11.5" fill="#ecc4c0" opacity="0.62"/>
<circle cx="616" cy="1803" r="11.5" fill="#b898b0" opacity="0.62"/>
<circle cx="606" cy="1709" r="11.5" fill="#a898b4" opacity="0.62"/>
<circle cx="551" cy="1884" r="11.5" fill="#ecc4c0" opacity="0.62"/>
<circle cx="741" cy="1759" r="11.5" fill="#d8a0c0" opacity="0.62"/>
<circle cx="582" cy="1877" r="11.5" fill="#b898b0" opacity="0.62"/>
<circle cx="676" cy="2113" r="11.5" fill="#9c8ca8" opacity="0.62"/>
<circle cx="331" cy="1719" r="11.5" fill="#d8a0c0" opacity="0.62"/>
<circle cx="572" cy="2165" r="11.5" fill="#9c8ca8" opacity="0.62"/>
<circle cx="350" cy="1795" r="11.5" fill="#a898b4" opacity="0.62"/>
<circle cx="362" cy="1781" r="11.5" fill="#d090bc" opacity="0.62"/>
<circle cx="721" cy="1749" r="11.5" fill="#c088b0" opacity="0.62"/>
<circle cx="344" cy="2050" r="11.5" fill="#c088b0" opacity="0.62"/>
<circle cx="644" cy="1868" r="11.5" fill="#9c8ca8" opacity="0.62"/>
<circle cx="483" cy="1882" r="11.5" fill="#a898b4" opacity="0.62"/>
<circle cx="566" cy="1707" r="11.5" fill="#b898b0" opacity="0.62"/>
<circle cx="299" cy="1803" r="11.5" fill="#9c8ca8" opacity="0.62"/>
<circle cx="496" cy="2080" r="11.5" fill="#9c8ca8" opacity="0.62"/>
<circle cx="719" cy="2011" r="11.5" fill="#c088b0" opacity="0.62"/>
<circle cx="524" cy="1708" r="11.5" fill="#c088b0" opacity="0.62"/>
<circle cx="662" cy="2062" r="11.5" fill="#ecc4c0" opacity="0.62"/>
<circle cx="713" cy="2183" r="11.5" fill="#d8a0c0" opacity="0.62"/>
<circle cx="565" cy="1959" r="11.5" fill="#d090bc" opacity="0.62"/>
<circle cx="663" cy="1833" r="11.5" fill="#c088b0" opacity="0.62"/>
<circle cx="634" cy="2100" r="11.5" fill="#ecc4c0" opacity="0.62"/>
<circle cx="724" cy="1768" r="11.5" fill="#d090bc" opacity="0.62"/>
<circle cx="699" cy="2057" r="11.5" fill="#ecc4c0" opacity="0.62"/>
<circle cx="485" cy="1793" r="11.5" fill="#a898b4" opacity="0.62"/>
<circle cx="624" cy="1736" r="11.5" fill="#d090bc" opacity="0.62"/>
<circle cx="424" cy="1752" r="11.5" fill="#d090bc" opacity="0.62"/>
<circle cx="752" cy="2164" r="11.5" fill="#c088b0" opacity="0.62"/>
<circle cx="390" cy="2186" r="11.5" fill="#b898b0" opacity="0.62"/>
<circle cx="422" cy="1811" r="11.5" fill="#9c8ca8" opacity="0.62"/>
<circle cx="551" cy="1974" r="11.5" fill="#9c8ca8" opacity="0.62"/>
<circle cx="525" cy="1956" r="11.5" fill="#a898b4" opacity="0.62"/>
<circle cx="614" cy="2092" r="11.5" fill="#d8a0c0" opacity="0.62"/>
<circle cx="291" cy="2016" r="11.5" fill="#b898b0" opacity="0.62"/>
<circle cx="393" cy="1928" r="11.5" fill="#d8a0c0" opacity="0.62"/>
<circle cx="304" cy="1800" r="11.5" fill="#9c8ca8" opacity="0.62"/>
<circle cx="285" cy="1833" r="11.5" fill="#d090bc" opacity="0.62"/>
<circle cx="711" cy="1983" r="11.5" fill="#d8a0c0" opacity="0.62"/>
<circle cx="478" cy="1968" r="11.5" fill="#ecc4c0" opacity="0.62"/>
<circle cx="754" cy="2028" r="11.5" fill="#ecc4c0" opacity="0.62"/>
<circle cx="587" cy="1982" r="11.5" fill="#b898b0" opacity="0.62"/>
<circle cx="641" cy="1723" r="11.5" fill="#a898b4" opacity="0.62"/>
<circle cx="464" cy="2199" r="11.5" fill="#ecc4c0" opacity="0.62"/>
<circle cx="516" cy="2014" r="11.5" fill="#c088b0" opacity="0.62"/>
<circle cx="484" cy="1954" r="11.5" fill="#d090bc" opacity="0.62"/>
<circle cx="531" cy="2007" r="11.5" fill="#d090bc" opacity="0.62"/>
<circle cx="532" cy="1948" r="11.5" fill="#d090bc" opacity="0.62"/>
<circle cx="547" cy="1846" r="11.5" fill="#b898b0" opacity="0.62"/>
<circle cx="636" cy="1714" r="11.5" fill="#ecc4c0" opacity="0.62"/>
<circle cx="397" cy="1722" r="11.5" fill="#a898b4" opacity="0.62"/>
<circle cx="475" cy="2052" r="11.5" fill="#c088b0" opacity="0.62"/>
<circle cx="707" cy="2085" r="11.5" fill="#c088b0" opacity="0.62"/>
<circle cx="557" cy="2072" r="11.5" fill="#d090bc" opacity="0.62"/>
<circle cx="315" cy="2165" r="11.5" fill="#9c8ca8" opacity="0.62"/>
<circle cx="622" cy="1829" r="11.5" fill="#ecc4c0" opacity="0.62"/>
<circle cx="396" cy="1969" r="11.5" fill="#ecc4c0" opacity="0.62"/>
<circle cx="624" cy="1941" r="11.5" fill="#ecc4c0" opacity="0.62"/>
<circle cx="397" cy="2063" r="11.5" fill="#c088b0" opacity="0.62"/>
<circle cx="577" cy="1934" r="11.5" fill="#a898b4" opacity="0.62"/>
<circle cx="690" cy="1883" r="11.5" fill="#a898b4" opacity="0.62"/>
<circle cx="339" cy="1928" r="11.5" fill="#b898b0" opacity="0.62"/>
<circle cx="478" cy="2009" r="11.5" fill="#b898b0" opacity="0.62"/>
<circle cx="557" cy="1916" r="11.5" fill="#ecc4c0" opacity="0.62"/>
<circle cx="634" cy="2119" r="11.5" fill="#a898b4" opacity="0.62"/>
<circle cx="733" cy="2077" r="11.5" fill="#a898b4" opacity="0.62"/>
<circle cx="509" cy="1959" r="11.5" fill="#d090bc" opacity="0.62"/>
<circle cx="653" cy="2021" r="11.5" fill="#d090bc" opacity="0.62"/>
<circle cx="411" cy="2013" r="11.5" fill="#b898b0" opacity="0.62"/>
<circle cx="549" cy="2004" r="11.5" fill="#b898b0" opacity="0.62"/>
<circle cx="413" cy="1823" r="11.5" fill="#a898b4" opacity="0.62"/>
<circle cx="519" cy="2036" r="11.5" fill="#a898b4" opacity="0.62"/>
<circle cx="698" cy="1720" r="11.5" fill="#c088b0" opacity="0.62"/>
<circle cx="285" cy="1833" r="11.5" fill="#c088b0" opacity="0.62"/>
<circle cx="577" cy="1753" r="11.5" fill="#d8a0c0" opacity="0.62"/>
<circle cx="412" cy="2088" r="11.5" fill="#b898b0" opacity="0.62"/>
<circle cx="357" cy="1821" r="11.5" fill="#d090bc" opacity="0.62"/>
<circle cx="510" cy="1882" r="11.5" fill="#d090bc" opacity="0.62"/>
<circle cx="444" cy="2083" r="11.5" fill="#ecc4c0" opacity="0.62"/>
<circle cx="694" cy="2112" r="11.5" fill="#9c8ca8" opacity="0.62"/>
<circle cx="665" cy="2021" r="11.5" fill="#ecc4c0" opacity="0.62"/>
<circle cx="646" cy="1928" r="11.5" fill="#b898b0" opacity="0.62"/>
<circle cx="403" cy="2116" r="11.5" fill="#d090bc" opacity="0.62"/>
<circle cx="353" cy="2130" r="11.5" fill="#d8a0c0" opacity="0.62"/>
<circle cx="435" cy="1982" r="11.5" fill="#b898b0" opacity="0.62"/>
<circle cx="673" cy="1795" r="11.5" fill="#b898b0" opacity="0.62"/>
<circle cx="456" cy="1750" r="11.5" fill="#d090bc" opacity="0.62"/>
<circle cx="317" cy="1743" r="11.5" fill="#d8a0c0" opacity="0.62"/>
<circle cx="550" cy="2119" r="11.5" fill="#9c8ca8" opacity="0.62"/>
<circle cx="422" cy="2099" r="11.5" fill="#c088b0" opacity="0.62"/>
<circle cx="428" cy="2168" r="11.5" fill="#d8a0c0" opacity="0.62"/>
<circle cx="319" cy="1856" r="11.5" fill="#b898b0" opacity="0.62"/>
<circle cx="644" cy="1869" r="11.5" fill="#a898b4" opacity="0.62"/>
<circle cx="384" cy="2038" r="11.5" fill="#d090bc" opacity="0.62"/>
<circle cx="454" cy="1760" r="11.5" fill="#b898b0" opacity="0.62"/>
<circle cx="490" cy="2006" r="11.5" fill="#b898b0" opacity="0.62"/>
<circle cx="715" cy="1925" r="11.5" fill="#ecc4c0" opacity="0.62"/>
<circle cx="752" cy="1936" r="11.5" fill="#a898b4" opacity="0.62"/>
<circle cx="470" cy="2180" r="11.5" fill="#d8a0c0" opacity="0.62"/>
<circle cx="398" cy="1886" r="11.5" fill="#d090bc" opacity="0.62"/>
<circle cx="291" cy="2048" r="11.5" fill="#d8a0c0" opacity="0.62"/>
<circle cx="464" cy="1800" r="11.5" fill="#d8a0c0" opacity="0.62"/>
<circle cx="455" cy="1901" r="11.5" fill="#a898b4" opacity="0.62"/>
<circle cx="678" cy="1989" r="11.5" fill="#a898b4" opacity="0.62"/>
<circle cx="323" cy="1934" r="11.5" fill="#ecc4c0" opacity="0.62"/>
<circle cx="414" cy="1711" r="11.5" fill="#d8a0c0" opacity="0.62"/>
<circle cx="307" cy="1782" r="11.5" fill="#d090bc" opacity="0.62"/>
<circle cx="740" cy="2035" r="11.5" fill="#ecc4c0" opacity="0.62"/>
<circle cx="481" cy="1999" r="11.5" fill="#d090bc" opacity="0.62"/>
<circle cx="655" cy="1743" r="11.5" fill="#c088b0" opacity="0.62"/>
<circle cx="410" cy="1754" r="11.5" fill="#d090bc" opacity="0.62"/>
<circle cx="320" cy="2026" r="11.5" fill="#a898b4" opacity="0.62"/>
<circle cx="326" cy="2120" r="11.5" fill="#9c8ca8" opacity="0.62"/>
<circle cx="397" cy="1813" r="11.5" fill="#ecc4c0" opacity="0.62"/>
<circle cx="712" cy="1874" r="11.5" fill="#9c8ca8" opacity="0.62"/>
<circle cx="468" cy="1874" r="11.5" fill="#d090bc" opacity="0.62"/>
<circle cx="600" cy="1954" r="11.5" fill="#d8a0c0" opacity="0.62"/>
<circle cx="663" cy="1737" r="11.5" fill="#d8a0c0" opacity="0.62"/>
<circle cx="716" cy="1911" r="11.5" fill="#ecc4c0" opacity="0.62"/>
<circle cx="749" cy="1879" r="11.5" fill="#c088b0" opacity="0.62"/>
<circle cx="664" cy="2129" r="11.5" fill="#9c8ca8" opacity="0.62"/>
<circle cx="736" cy="2029" r="11.5" fill="#d8a0c0" opacity="0.62"/>
<circle cx="452" cy="1705" r="11.5" fill="#c088b0" opacity="0.62"/>
<circle cx="481" cy="1916" r="11.5" fill="#a898b4" opacity="0.62"/>
<circle cx="397" cy="1783" r="11.5" fill="#b898b0" opacity="0.62"/>
<circle cx="459" cy="1786" r="11.5" fill="#a898b4" opacity="0.62"/>
<circle cx="465" cy="1972" r="11.5" fill="#d090bc" opacity="0.62"/>
<circle cx="742" cy="1730" r="11.5" fill="#d090bc" opacity="0.62"/>
<circle cx="628" cy="1856" r="11.5" fill="#a898b4" opacity="0.62"/>
<circle cx="649" cy="1792" r="11.5" fill="#c088b0" opacity="0.62"/>
<circle cx="638" cy="1709" r="11.5" fill="#9c8ca8" opacity="0.62"/>
<circle cx="713" cy="1719" r="11.5" fill="#c088b0" opacity="0.62"/>
<circle cx="374" cy="1885" r="11.5" fill="#d8a0c0" opacity="0.62"/>
<circle cx="392" cy="2069" r="11.5" fill="#d8a0c0" opacity="0.62"/>
<circle cx="522" cy="1927" r="11.5" fill="#d090bc" opacity="0.62"/>
<circle cx="472" cy="2168" r="11.5" fill="#d090bc" opacity="0.62"/>
<circle cx="578" cy="2184" r="11.5" fill="#d8a0c0" opacity="0.62"/>
<circle cx="508" cy="1834" r="11.5" fill="#9c8ca8" opacity="0.62"/>
<circle cx="715" cy="1876" r="11.5" fill="#d8a0c0" opacity="0.62"/>
<circle cx="647" cy="1748" r="11.5" fill="#ecc4c0" opacity="0.62"/>
<circle cx="385" cy="1726" r="11.5" fill="#a898b4" opacity="0.62"/>
<circle cx="661" cy="1898" r="11.5" fill="#d8a0c0" opacity="0.62"/>
<circle cx="658" cy="2098" r="11.5" fill="#ecc4c0" opacity="0.62"/>
<circle cx="751" cy="2038" r="11.5" fill="#a898b4" opacity="0.62"/>
<circle cx="705" cy="2149" r="11.5" fill="#d090bc" opacity="0.62"/>
<circle cx="494" cy="1827" r="11.5" fill="#9c8ca8" opacity="0.62"/>
<circle cx="568" cy="1781" r="11.5" fill="#a898b4" opacity="0.62"/>
<circle cx="647" cy="1774" r="11.5" fill="#ecc4c0" opacity="0.62"/>
<circle cx="666" cy="1767" r="11.5" fill="#b898b0" opacity="0.62"/>
<circle cx="753" cy="1837" r="11.5" fill="#d8a0c0" opacity="0.62"/>
<circle cx="305" cy="1994" r="11.5" fill="#a898b4" opacity="0.62"/>
<circle cx="281" cy="2122" r="11.5" fill="#ecc4c0" opacity="0.62"/>
<circle cx="351" cy="1766" r="11.5" fill="#d090bc" opacity="0.62"/>
<circle cx="408" cy="2068" r="11.5" fill="#c088b0" opacity="0.62"/>
<circle cx="703" cy="2057" r="11.5" fill="#c088b0" opacity="0.62"/>
<circle cx="735" cy="2002" r="11.5" fill="#ecc4c0" opacity="0.62"/>
<circle cx="521" cy="1710" r="11.5" fill="#a898b4" opacity="0.62"/>
<circle cx="478" cy="2171" r="11.5" fill="#c088b0" opacity="0.62"/>
<circle cx="652" cy="1926" r="11.5" fill="#c088b0" opacity="0.62"/>
<circle cx="539" cy="1970" r="11.5" fill="#a898b4" opacity="0.62"/>
<circle cx="731" cy="2195" r="11.5" fill="#d090bc" opacity="0.62"/>
<circle cx="428" cy="1739" r="11.5" fill="#d090bc" opacity="0.62"/>
<circle cx="755" cy="2043" r="11.5" fill="#c088b0" opacity="0.62"/>
<circle cx="451" cy="2053" r="11.5" fill="#c088b0" opacity="0.62"/>
<circle cx="598" cy="2047" r="11.5" fill="#b898b0" opacity="0.62"/>
<circle cx="740" cy="2126" r="11.5" fill="#b898b0" opacity="0.62"/>
<circle cx="492" cy="2144" r="11.5" fill="#b898b0" opacity="0.62"/>
<circle cx="618" cy="1822" r="11.5" fill="#d8a0c0" opacity="0.62"/>
<circle cx="334" cy="2097" r="11.5" fill="#ecc4c0" opacity="0.62"/>
<circle cx="752" cy="2111" r="11.5" fill="#a898b4" opacity="0.62"/>
<circle cx="709" cy="1778" r="11.5" fill="#b898b0" opacity="0.62"/>
<circle cx="459" cy="1977" r="11.5" fill="#d090bc" opacity="0.62"/>
<circle cx="734" cy="2088" r="11.5" fill="#d8a0c0" opacity="0.62"/>
<circle cx="597" cy="1832" r="11.5" fill="#a898b4" opacity="0.62"/>
<circle cx="459" cy="1756" r="11.5" fill="#d090bc" opacity="0.62"/>
<circle cx="730" cy="1989" r="11.5" fill="#b898b0" opacity="0.62"/>
<circle cx="585" cy="1930" r="11.5" fill="#9c8ca8" opacity="0.62"/>
<circle cx="324" cy="1772" r="11.5" fill="#c088b0" opacity="0.62"/>
<circle cx="343" cy="2024" r="11.5" fill="#a898b4" opacity="0.62"/>
<circle cx="366" cy="1907" r="11.5" fill="#ecc4c0" opacity="0.62"/>
<circle cx="500" cy="2062" r="11.5" fill="#c088b0" opacity="0.62"/>
<circle cx="388" cy="1781" r="11.5" fill="#c088b0" opacity="0.62"/>
<circle cx="486" cy="2096" r="11.5" fill="#d090bc" opacity="0.62"/>
<circle cx="718" cy="1919" r="11.5" fill="#d8a0c0" opacity="0.62"/>
<circle cx="346" cy="1806" r="11.5" fill="#a898b4" opacity="0.62"/>
<circle cx="671" cy="1898" r="11.5" fill="#d090bc" opacity="0.62"/>
<circle cx="719" cy="2020" r="11.5" fill="#b898b0" opacity="0.62"/>
<circle cx="471" cy="2060" r="11.5" fill="#ecc4c0" opacity="0.62"/>
<circle cx="656" cy="2039" r="11.5" fill="#d8a0c0" opacity="0.62"/>
<circle cx="532" cy="1834" r="11.5" fill="#a898b4" opacity="0.62"/>
<circle cx="443" cy="2034" r="11.5" fill="#c088b0" opacity="0.62"/>
<circle cx="545" cy="1805" r="11.5" fill="#d090bc" opacity="0.62"/>
<circle cx="655" cy="2124" r="11.5" fill="#d8a0c0" opacity="0.62"/>
<circle cx="620" cy="1830" r="11.5" fill="#d8a0c0" opacity="0.62"/>
<circle cx="710" cy="1982" r="11.5" fill="#d090bc" opacity="0.62"/>
<circle cx="571" cy="1964" r="11.5" fill="#d8a0c0" opacity="0.62"/>
<circle cx="620" cy="2207" r="11.5" fill="#d8a0c0" opacity="0.62"/>
<circle cx="755" cy="2063" r="11.5" fill="#a898b4" opacity="0.62"/>
<circle cx="550" cy="1714" r="11.5" fill="#b898b0" opacity="0.62"/>
<circle cx="374" cy="1743" r="11.5" fill="#a898b4" opacity="0.62"/>
<circle cx="507" cy="1915" r="11.5" fill="#d090bc" opacity="0.62"/>
<circle cx="437" cy="2178" r="11.5" fill="#d090bc" opacity="0.62"/>
<circle cx="407" cy="2154" r="11.5" fill="#9c8ca8" opacity="0.62"/>
<circle cx="743" cy="1770" r="11.5" fill="#d8a0c0" opacity="0.62"/>
<circle cx="539" cy="1988" r="11.5" fill="#d8a0c0" opacity="0.62"/>
<circle cx="716" cy="1787" r="11.5" fill="#b898b0" opacity="0.62"/>
<circle cx="752" cy="2120" r="11.5" fill="#d8a0c0" opacity="0.62"/>
<circle cx="349" cy="2180" r="11.5" fill="#c088b0" opacity="0.62"/>
<circle cx="417" cy="2161" r="11.5" fill="#a898b4" opacity="0.62"/>
<circle cx="641" cy="1887" r="11.5" fill="#a898b4" opacity="0.62"/>
<circle cx="368" cy="1982" r="11.5" fill="#c088b0" opacity="0.62"/>
<circle cx="496" cy="1907" r="11.5" fill="#ecc4c0" opacity="0.62"/>
<circle cx="750" cy="2183" r="11.5" fill="#b898b0" opacity="0.62"/>
<circle cx="346" cy="2089" r="11.5" fill="#ecc4c0" opacity="0.62"/>
<circle cx="631" cy="1896" r="11.5" fill="#d8a0c0" opacity="0.62"/>
<circle cx="585" cy="2092" r="11.5" fill="#a898b4" opacity="0.62"/>
<circle cx="375" cy="1941" r="11.5" fill="#a898b4" opacity="0.62"/>
<circle cx="531" cy="1761" r="11.5" fill="#9c8ca8" opacity="0.62"/>
<circle cx="363" cy="1967" r="11.5" fill="#d090bc" opacity="0.62"/>
<circle cx="396" cy="2179" r="11.5" fill="#c088b0" opacity="0.62"/>
<circle cx="585" cy="1719" r="11.5" fill="#b898b0" opacity="0.62"/>
<circle cx="655" cy="1907" r="11.5" fill="#9c8ca8" opacity="0.62"/>
<circle cx="566" cy="1942" r="11.5" fill="#9c8ca8" opacity="0.62"/>
<circle cx="707" cy="2169" r="11.5" fill="#d8a0c0" opacity="0.62"/>
<circle cx="641" cy="2086" r="11.5" fill="#9c8ca8" opacity="0.62"/>
<circle cx="703" cy="1938" r="11.5" fill="#ecc4c0" opacity="0.62"/>
<circle cx="609" cy="2124" r="11.5" fill="#c088b0" opacity="0.62"/>
<circle cx="549" cy="2165" r="11.5" fill="#d8a0c0" opacity="0.62"/>
<circle cx="437" cy="1968" r="11.5" fill="#9c8ca8" opacity="0.62"/>
<circle cx="710" cy="1865" r="11.5" fill="#c088b0" opacity="0.62"/>
<circle cx="421" cy="2017" r="11.5" fill="#9c8ca8" opacity="0.62"/>
<circle cx="628" cy="2007" r="11.5" fill="#ecc4c0" opacity="0.62"/>
<circle cx="656" cy="2154" r="11.5" fill="#c088b0" opacity="0.62"/>
<circle cx="396" cy="2134" r="11.5" fill="#a898b4" opacity="0.62"/>
<circle cx="519" cy="1904" r="11.5" fill="#c088b0" opacity="0.62"/>
<circle cx="506" cy="1754" r="11.5" fill="#a898b4" opacity="0.62"/>
<circle cx="539" cy="2038" r="11.5" fill="#a898b4" opacity="0.62"/>
<circle cx="699" cy="2214" r="11.5" fill="#b898b0" opacity="0.62"/>
<circle cx="740" cy="2042" r="11.5" fill="#ecc4c0" opacity="0.62"/>
<circle cx="540" cy="1990" r="11.5" fill="#a898b4" opacity="0.62"/>
<circle cx="386" cy="2084" r="11.5" fill="#d8a0c0" opacity="0.62"/>
<circle cx="338" cy="1737" r="11.5" fill="#d8a0c0" opacity="0.62"/>
<circle cx="657" cy="1764" r="11.5" fill="#d8a0c0" opacity="0.62"/>
<circle cx="554" cy="1933" r="11.5" fill="#d090bc" opacity="0.62"/>
<circle cx="396" cy="1854" r="11.5" fill="#d090bc" opacity="0.62"/>
<circle cx="362" cy="1927" r="11.5" fill="#9c8ca8" opacity="0.62"/>
<circle cx="668" cy="1904" r="11.5" fill="#d090bc" opacity="0.62"/>
<circle cx="610" cy="1819" r="11.5" fill="#d090bc" opacity="0.62"/>
<circle cx="295" cy="2162" r="11.5" fill="#d090bc" opacity="0.62"/>
<circle cx="434" cy="1774" r="11.5" fill="#ecc4c0" opacity="0.62"/>
<circle cx="745" cy="1943" r="11.5" fill="#a898b4" opacity="0.62"/>
<circle cx="376" cy="2142" r="11.5" fill="#b898b0" opacity="0.62"/>
<circle cx="707" cy="1800" r="11.5" fill="#ecc4c0" opacity="0.62"/>
<circle cx="689" cy="2162" r="11.5" fill="#c088b0" opacity="0.62"/>
<circle cx="362" cy="2152" r="11.5" fill="#d8a0c0" opacity="0.62"/>
<circle cx="376" cy="2025" r="11.5" fill="#a898b4" opacity="0.62"/>
<circle cx="732" cy="2202" r="11.5" fill="#b898b0" opacity="0.62"/>
<circle cx="331" cy="2073" r="11.5" fill="#d090bc" opacity="0.62"/>
<circle cx="738" cy="1841" r="11.5" fill="#9c8ca8" opacity="0.62"/>
<circle cx="619" cy="1769" r="11.5" fill="#b898b0" opacity="0.62"/>
<circle cx="736" cy="2100" r="11.5" fill="#9c8ca8" opacity="0.62"/>
<circle cx="318" cy="1815" r="11.5" fill="#d090bc" opacity="0.62"/>
<circle cx="337" cy="2055" r="11.5" fill="#d090bc" opacity="0.62"/>
<circle cx="366" cy="1821" r="11.5" fill="#b898b0" opacity="0.62"/>
<circle cx="421" cy="1840" r="11.5" fill="#ecc4c0" opacity="0.62"/>
<circle cx="595" cy="2155" r="11.5" fill="#d8a0c0" opacity="0.62"/>
<circle cx="526" cy="2202" r="11.5" fill="#a898b4" opacity="0.62"/>
<circle cx="598" cy="1842" r="11.5" fill="#b898b0" opacity="0.62"/>
<circle cx="598" cy="1938" r="11.5" fill="#c088b0" opacity="0.62"/>
<circle cx="490" cy="1972" r="11.5" fill="#d8a0c0" opacity="0.62"/>
<circle cx="712" cy="1704" r="11.5" fill="#d8a0c0" opacity="0.62"/>
<circle cx="415" cy="1829" r="11.5" fill="#ecc4c0" opacity="0.62"/>
<circle cx="551" cy="1785" r="11.5" fill="#ecc4c0" opacity="0.62"/>
<circle cx="370" cy="1792" r="11.5" fill="#b898b0" opacity="0.62"/>
<circle cx="541" cy="1796" r="11.5" fill="#a898b4" opacity="0.62"/>
<circle cx="750" cy="1717" r="11.5" fill="#9c8ca8" opacity="0.62"/>
<circle cx="716" cy="2001" r="11.5" fill="#c088b0" opacity="0.62"/>
<circle cx="722" cy="1957" r="11.5" fill="#a898b4" opacity="0.62"/>
<circle cx="310" cy="2099" r="11.5" fill="#d090bc" opacity="0.62"/>
<circle cx="433" cy="1949" r="11.5" fill="#c088b0" opacity="0.62"/>
<circle cx="526" cy="1960" r="11.5" fill="#ecc4c0" opacity="0.62"/>
<circle cx="582" cy="2205" r="11.5" fill="#b898b0" opacity="0.62"/>
<circle cx="733" cy="1789" r="11.5" fill="#ecc4c0" opacity="0.62"/>
<circle cx="647" cy="1758" r="11.5" fill="#9c8ca8" opacity="0.62"/>
<circle cx="392" cy="1926" r="11.5" fill="#ecc4c0" opacity="0.62"/>
<circle cx="402" cy="2068" r="11.5" fill="#b898b0" opacity="0.62"/>
<circle cx="392" cy="1951" r="11.5" fill="#a898b4" opacity="0.62"/>
<circle cx="686" cy="2010" r="11.5" fill="#d090bc" opacity="0.62"/>
<circle cx="297" cy="2007" r="11.5" fill="#b898b0" opacity="0.62"/>
<circle cx="305" cy="1930" r="11.5" fill="#a898b4" opacity="0.62"/>
<circle cx="435" cy="2013" r="11.5" fill="#d8a0c0" opacity="0.62"/>
<circle cx="516" cy="1923" r="11.5" fill="#9c8ca8" opacity="0.62"/>
<circle cx="624" cy="2140" r="11.5" fill="#c088b0" opacity="0.62"/>
<circle cx="315" cy="2166" r="11.5" fill="#d8a0c0" opacity="0.62"/>
<circle cx="585" cy="1998" r="11.5" fill="#b898b0" opacity="0.62"/>
<circle cx="393" cy="1775" r="11.5" fill="#d090bc" opacity="0.62"/>
<circle cx="482" cy="2058" r="11.5" fill="#ecc4c0" opacity="0.62"/>
<circle cx="576" cy="1970" r="11.5" fill="#d090bc" opacity="0.62"/>
<circle cx="644" cy="1956" r="11.5" fill="#b898b0" opacity="0.62"/>
<circle cx="671" cy="1788" r="11.5" fill="#d090bc" opacity="0.62"/>
<circle cx="398" cy="1955" r="11.5" fill="#b898b0" opacity="0.62"/>
<circle cx="676" cy="2104" r="11.5" fill="#c088b0" opacity="0.62"/>
<circle cx="430" cy="1940" r="11.5" fill="#b898b0" opacity="0.62"/>
<circle cx="383" cy="2199" r="11.5" fill="#c088b0" opacity="0.62"/>
<circle cx="341" cy="2088" r="11.5" fill="#d8a0c0" opacity="0.62"/>
<circle cx="749" cy="1774" r="11.5" fill="#9c8ca8" opacity="0.62"/>
<circle cx="528" cy="2207" r="11.5" fill="#c088b0" opacity="0.62"/>
<circle cx="395" cy="2158" r="11.5" fill="#a898b4" opacity="0.62"/>
<circle cx="324" cy="1986" r="11.5" fill="#9c8ca8" opacity="0.62"/>
<circle cx="482" cy="1739" r="11.5" fill="#c088b0" opacity="0.62"/>
<circle cx="604" cy="2069" r="11.5" fill="#b898b0" opacity="0.62"/>
<circle cx="572" cy="1852" r="11.5" fill="#c088b0" opacity="0.62"/>
<circle cx="543" cy="1824" r="11.5" fill="#9c8ca8" opacity="0.62"/>
<circle cx="321" cy="1817" r="11.5" fill="#d090bc" opacity="0.62"/>
<circle cx="440" cy="2204" r="11.5" fill="#d8a0c0" opacity="0.62"/>
<circle cx="384" cy="1782" r="11.5" fill="#d8a0c0" opacity="0.62"/>
</g>
<g clip-path="url(#partc)"><polygon points="278.0,1967.0 287.0,1906.0 303.0,1856.0 325.0,1820.0 361.0,1781.0 403.0,1754.0 442.0,1731.0 480.0,1715.0 519.0,1705.0 560.0,1701.0 602.0,1700.0 632.0,1702.0 643.0,1712.0 663.0,1745.0 702.0,1781.0 724.0,1820.0 740.0,1862.0 753.0,1911.0 756.0,1967.0 752.0,2008.0 740.0,2036.0 718.0,2069.0 693.0,2105.0 666.0,2133.0 630.0,2160.0 588.0,2184.0 543.0,2200.0 498.0,2213.0 470.0,2214.0 430.0,2203.0 390.0,2180.0 353.0,2144.0 323.0,2102.0 298.0,2055.0 284.0,2011.0" fill="none" stroke="#62564f" stroke-width="18" opacity="0.75" filter="url(#rimblur)"/></g>
<circle cx="281.3" cy="1613.3" r="11.6" fill="url(#gb)"/>
<circle cx="291.0" cy="1636.8" r="11.6" fill="url(#gb)"/>
<circle cx="323.0" cy="1625.0" r="11.6" fill="url(#gm)"/>
<circle cx="144.9" cy="1667.7" r="11.6" fill="url(#gm)"/>
<circle cx="180.0" cy="1675.0" r="11.6" fill="url(#gb)"/>
<circle cx="327.2" cy="1666.6" r="11.6" fill="url(#gb)"/>
<circle cx="383.7" cy="1658.0" r="11.6" fill="url(#gm)"/>
<circle cx="444.5" cy="1596.0" r="11.6" fill="url(#gb)"/>
<circle cx="446.6" cy="1649.6" r="11.6" fill="url(#gb)"/>
<circle cx="365.6" cy="1692.2" r="11.6" fill="url(#gb)"/>
<circle cx="377.3" cy="1683.7" r="11.6" fill="url(#gb)"/>
<circle cx="376.2" cy="1696.5" r="11.6" fill="url(#gb)"/>
<circle cx="399.7" cy="1698.6" r="11.6" fill="url(#gb)"/>
<circle cx="423.0" cy="1688.0" r="11.6" fill="url(#gm)"/>
<circle cx="442.3" cy="1675.0" r="11.6" fill="url(#gm)"/>
<circle cx="281.3" cy="1708.2" r="11.6" fill="url(#gb)"/>
<circle cx="82.0" cy="1723.0" r="11.6" fill="url(#gm)"/>
<circle cx="114.0" cy="1738.0" r="11.6" fill="url(#gb)"/>
<circle cx="160.4" cy="1736.0" r="11.6" fill="url(#gm)"/>
<circle cx="212.0" cy="1733.8" r="11.6" fill="url(#gm)"/>
<circle cx="196.0" cy="1746.6" r="11.6" fill="url(#gm)"/>
<circle cx="235.5" cy="1748.7" r="11.6" fill="url(#gb)"/>
<circle cx="220.6" cy="1756.0" r="11.6" fill="url(#gb)"/>
<circle cx="218.4" cy="1764.7" r="11.6" fill="url(#gb)"/>
<circle cx="234.4" cy="1775.4" r="11.6" fill="url(#gm)"/>
<circle cx="263.2" cy="1750.8" r="11.6" fill="url(#gm)"/>
<circle cx="285.6" cy="1739.0" r="11.6" fill="url(#gb)"/>
<circle cx="280.3" cy="1764.7" r="11.6" fill="url(#gm)"/>
<circle cx="295.2" cy="1762.6" r="11.6" fill="url(#gb)"/>
<circle cx="320.8" cy="1766.8" r="11.6" fill="url(#gb)"/>
<circle cx="304.8" cy="1778.5" r="11.6" fill="url(#gm)"/>
<circle cx="319.7" cy="1781.7" r="11.6" fill="url(#gm)"/>
<circle cx="332.5" cy="1734.8" r="11.6" fill="url(#gm)"/>
<circle cx="363.4" cy="1741.2" r="11.6" fill="url(#gm)"/>
<circle cx="376.2" cy="1737.0" r="11.6" fill="url(#gm)"/>
<circle cx="408.2" cy="1732.7" r="11.6" fill="url(#gm)"/>
<circle cx="377.3" cy="1763.6" r="11.6" fill="url(#gm)"/>
<circle cx="359.2" cy="1773.2" r="11.6" fill="url(#gm)"/>
<circle cx="359.2" cy="1781.7" r="11.6" fill="url(#gm)"/>
<circle cx="346.4" cy="1788.1" r="11.6" fill="url(#gb)"/>
<circle cx="367.7" cy="1797.7" r="11.6" fill="url(#gb)"/>
<circle cx="390.0" cy="1788.1" r="11.6" fill="url(#gb)"/>
<circle cx="143.8" cy="1794.5" r="11.6" fill="url(#gm)"/>
<circle cx="155.5" cy="1805.2" r="11.6" fill="url(#gb)"/>
<circle cx="120.4" cy="1823.3" r="11.6" fill="url(#gm)"/>
<circle cx="136.4" cy="1834.0" r="11.6" fill="url(#gm)"/>
<circle cx="154.5" cy="1849.0" r="11.6" fill="url(#gb)"/>
<circle cx="203.5" cy="1814.8" r="11.6" fill="url(#gm)"/>
<circle cx="269.6" cy="1795.6" r="11.6" fill="url(#gm)"/>
<circle cx="280.3" cy="1805.2" r="11.6" fill="url(#gm)"/>
<circle cx="300.5" cy="1801.0" r="11.6" fill="url(#gb)"/>
<circle cx="273.9" cy="1818.0" r="11.6" fill="url(#gm)"/>
<circle cx="286.7" cy="1826.5" r="11.6" fill="url(#gm)"/>
<circle cx="193.9" cy="1836.0" r="11.6" fill="url(#gb)"/>
<circle cx="252.6" cy="1837.2" r="11.6" fill="url(#gb)"/>
<circle cx="269.6" cy="1839.3" r="11.6" fill="url(#gm)"/>
<circle cx="310.1" cy="1839.3" r="11.6" fill="url(#gb)"/>
<circle cx="199.3" cy="1853.2" r="11.6" fill="url(#gm)"/>
<circle cx="201.4" cy="1862.8" r="11.6" fill="url(#gb)"/>
<circle cx="169.4" cy="1862.8" r="11.6" fill="url(#gm)"/>
<circle cx="166.2" cy="1878.8" r="11.6" fill="url(#gb)"/>
<circle cx="184.3" cy="1880.9" r="11.6" fill="url(#gm)"/>
<circle cx="179.0" cy="1892.6" r="11.6" fill="url(#gb)"/>
<circle cx="230.2" cy="1862.8" r="11.6" fill="url(#gb)"/>
<circle cx="250.4" cy="1867.0" r="11.6" fill="url(#gb)"/>
<circle cx="263.2" cy="1856.4" r="11.6" fill="url(#gb)"/>
<circle cx="271.7" cy="1850.0" r="11.6" fill="url(#gb)"/>
<circle cx="263.2" cy="1877.7" r="11.6" fill="url(#gb)"/>
<circle cx="297.3" cy="1852.1" r="11.6" fill="url(#gm)"/>
<circle cx="310.1" cy="1860.6" r="11.6" fill="url(#gb)"/>
<circle cx="209.9" cy="1888.4" r="11.6" fill="url(#gb)"/>
<circle cx="207.8" cy="1900.0" r="11.6" fill="url(#gm)"/>
<circle cx="231.2" cy="1888.4" r="11.6" fill="url(#gm)"/>
<circle cx="244.0" cy="1894.8" r="11.6" fill="url(#gm)"/>
<circle cx="254.7" cy="1899.0" r="11.6" fill="url(#gm)"/>
<circle cx="205.7" cy="1914.0" r="11.6" fill="url(#gm)"/>
<circle cx="238.7" cy="1916.0" r="11.6" fill="url(#gb)"/>
<circle cx="279.2" cy="1901.2" r="11.6" fill="url(#gb)"/>
<circle cx="294.1" cy="1906.5" r="11.6" fill="url(#gm)"/>
<circle cx="311.2" cy="1889.4" r="11.6" fill="url(#gb)"/>
<circle cx="288.8" cy="1926.7" r="11.6" fill="url(#gb)"/>
<circle cx="395.4" cy="1847.8" r="11.6" fill="url(#gm)"/>
<circle cx="383.7" cy="1873.4" r="11.6" fill="url(#gb)"/>
<circle cx="377.3" cy="1910.7" r="11.6" fill="url(#gm)"/>
<circle cx="433.8" cy="1901.2" r="11.6" fill="url(#gb)"/>
<circle cx="418.9" cy="1922.5" r="11.6" fill="url(#gb)"/>
<circle cx="195.0" cy="1939.5" r="11.6" fill="url(#gm)"/>
<circle cx="178.0" cy="1952.3" r="11.6" fill="url(#gm)"/>
<circle cx="229.1" cy="1950.2" r="11.6" fill="url(#gm)"/>
<circle cx="254.7" cy="1952.3" r="11.6" fill="url(#gb)"/>
<circle cx="269.6" cy="1935.3" r="11.6" fill="url(#gm)"/>
<circle cx="299.5" cy="1946.0" r="11.6" fill="url(#gm)"/>
<circle cx="361.3" cy="1952.3" r="11.6" fill="url(#gb)"/>
<circle cx="412.5" cy="1954.5" r="11.6" fill="url(#gm)"/>
<circle cx="446.6" cy="1920.3" r="11.6" fill="url(#gm)"/>
<circle cx="709.0" cy="1566.4" r="11.6" fill="url(#gb)"/>
<circle cx="518.2" cy="1589.9" r="11.6" fill="url(#gm)"/>
<circle cx="539.6" cy="1587.7" r="11.6" fill="url(#gb)"/>
<circle cx="569.4" cy="1589.9" r="11.6" fill="url(#gb)"/>
<circle cx="533.2" cy="1604.8" r="11.6" fill="url(#gm)"/>
<circle cx="556.6" cy="1615.4" r="11.6" fill="url(#gb)"/>
<circle cx="543.8" cy="1621.8" r="11.6" fill="url(#gm)"/>
<circle cx="556.6" cy="1638.9" r="11.6" fill="url(#gm)"/>
<circle cx="453.2" cy="1597.3" r="11.6" fill="url(#gb)"/>
<circle cx="471.3" cy="1616.5" r="11.6" fill="url(#gb)"/>
<circle cx="480.9" cy="1630.4" r="11.6" fill="url(#gb)"/>
<circle cx="454.3" cy="1645.3" r="11.6" fill="url(#gb)"/>
<circle cx="460.7" cy="1656.0" r="11.6" fill="url(#gb)"/>
<circle cx="476.7" cy="1651.7" r="11.6" fill="url(#gm)"/>
<circle cx="477.7" cy="1666.6" r="11.6" fill="url(#gm)"/>
<circle cx="501.2" cy="1658.0" r="11.6" fill="url(#gb)"/>
<circle cx="502.2" cy="1675.1" r="11.6" fill="url(#gb)"/>
<circle cx="522.5" cy="1659.1" r="11.6" fill="url(#gm)"/>
<circle cx="452.1" cy="1675.1" r="11.6" fill="url(#gm)"/>
<circle cx="588.6" cy="1649.6" r="11.6" fill="url(#gb)"/>
<circle cx="586.5" cy="1673.0" r="11.6" fill="url(#gb)"/>
<circle cx="586.5" cy="1688.0" r="11.6" fill="url(#gb)"/>
<circle cx="603.5" cy="1684.7" r="11.6" fill="url(#gm)"/>
<circle cx="618.4" cy="1653.8" r="11.6" fill="url(#gm)"/>
<circle cx="633.4" cy="1632.5" r="11.6" fill="url(#gb)"/>
<circle cx="635.5" cy="1662.3" r="11.6" fill="url(#gm)"/>
<circle cx="631.2" cy="1679.4" r="11.6" fill="url(#gm)"/>
<circle cx="648.3" cy="1688.0" r="11.6" fill="url(#gb)"/>
<circle cx="659.0" cy="1633.6" r="11.6" fill="url(#gb)"/>
<circle cx="673.9" cy="1643.2" r="11.6" fill="url(#gb)"/>
<circle cx="661.1" cy="1670.9" r="11.6" fill="url(#gm)"/>
<circle cx="671.7" cy="1673.0" r="11.6" fill="url(#gb)"/>
<circle cx="684.5" cy="1658.0" r="11.6" fill="url(#gm)"/>
<circle cx="686.7" cy="1619.7" r="11.6" fill="url(#gm)"/>
<circle cx="703.7" cy="1606.9" r="11.6" fill="url(#gb)"/>
<circle cx="718.7" cy="1596.2" r="11.6" fill="url(#gb)"/>
<circle cx="731.4" cy="1611.2" r="11.6" fill="url(#gm)"/>
<circle cx="699.5" cy="1634.6" r="11.6" fill="url(#gm)"/>
<circle cx="712.3" cy="1638.9" r="11.6" fill="url(#gb)"/>
<circle cx="705.9" cy="1653.8" r="11.6" fill="url(#gb)"/>
<circle cx="716.5" cy="1656.0" r="11.6" fill="url(#gm)"/>
<circle cx="744.2" cy="1633.6" r="11.6" fill="url(#gm)"/>
<circle cx="716.5" cy="1679.4" r="11.6" fill="url(#gm)"/>
<circle cx="742.1" cy="1683.7" r="11.6" fill="url(#gm)"/>
<circle cx="757.0" cy="1673.0" r="11.6" fill="url(#gm)"/>
<circle cx="759.2" cy="1664.5" r="11.6" fill="url(#gm)"/>
<circle cx="777.3" cy="1661.3" r="11.6" fill="url(#gm)"/>
<circle cx="693.0" cy="1696.5" r="11.6" fill="url(#gb)"/>
<circle cx="761.3" cy="1707.1" r="11.6" fill="url(#gb)"/>
<circle cx="778.4" cy="1700.7" r="11.6" fill="url(#gb)"/>
<circle cx="814.6" cy="1707.1" r="11.6" fill="url(#gm)"/>
<circle cx="814.6" cy="1724.2" r="11.6" fill="url(#gb)"/>
<circle cx="490.5" cy="1699.7" r="11.6" fill="url(#gm)"/>
<circle cx="509.7" cy="1699.7" r="11.6" fill="url(#gm)"/>
<circle cx="537.4" cy="1701.8" r="11.6" fill="url(#gm)"/>
<circle cx="556.6" cy="1705.0" r="11.6" fill="url(#gb)"/>
<circle cx="556.6" cy="1724.2" r="11.6" fill="url(#gb)"/>
<circle cx="599.3" cy="1719.9" r="11.6" fill="url(#gb)"/>
<circle cx="475.6" cy="1717.8" r="11.6" fill="url(#gb)"/>
<circle cx="470.3" cy="1738.0" r="11.6" fill="url(#gb)"/>
<circle cx="465.0" cy="1762.6" r="11.6" fill="url(#gb)"/>
<circle cx="630.2" cy="1748.7" r="11.6" fill="url(#gm)"/>
<circle cx="654.7" cy="1728.4" r="11.6" fill="url(#gm)"/>
<circle cx="659.0" cy="1716.7" r="11.6" fill="url(#gb)"/>
<circle cx="686.7" cy="1722.0" r="11.6" fill="url(#gb)"/>
<circle cx="716.5" cy="1718.8" r="11.6" fill="url(#gb)"/>
<circle cx="654.7" cy="1745.5" r="11.6" fill="url(#gb)"/>
<circle cx="682.4" cy="1751.9" r="11.6" fill="url(#gb)"/>
<circle cx="710.1" cy="1737.0" r="11.6" fill="url(#gm)"/>
<circle cx="714.4" cy="1751.9" r="11.6" fill="url(#gm)"/>
<circle cx="740.0" cy="1734.8" r="11.6" fill="url(#gm)"/>
<circle cx="752.8" cy="1747.6" r="11.6" fill="url(#gm)"/>
<circle cx="778.4" cy="1751.9" r="11.6" fill="url(#gm)"/>
<circle cx="791.2" cy="1751.9" r="11.6" fill="url(#gm)"/>
<circle cx="712.3" cy="1764.7" r="11.6" fill="url(#gm)"/>
<circle cx="644.0" cy="1769.0" r="11.6" fill="url(#gb)"/>
<circle cx="667.5" cy="1775.4" r="11.6" fill="url(#gb)"/>
<circle cx="690.9" cy="1777.5" r="11.6" fill="url(#gm)"/>
<circle cx="710.1" cy="1777.5" r="11.6" fill="url(#gb)"/>
<circle cx="737.8" cy="1779.6" r="11.6" fill="url(#gb)"/>
<circle cx="759.2" cy="1771.1" r="11.6" fill="url(#gb)"/>
<circle cx="782.6" cy="1773.2" r="11.6" fill="url(#gb)"/>
<circle cx="812.5" cy="1771.1" r="11.6" fill="url(#gm)"/>
<circle cx="817.8" cy="1775.4" r="11.6" fill="url(#gb)"/>
<circle cx="782.6" cy="1790.3" r="11.6" fill="url(#gb)"/>
<circle cx="823.1" cy="1798.8" r="11.6" fill="url(#gb)"/>
<circle cx="769.8" cy="1796.7" r="11.6" fill="url(#gm)"/>
<circle cx="808.2" cy="1807.3" r="11.6" fill="url(#gm)"/>
<circle cx="776.2" cy="1813.7" r="11.6" fill="url(#gb)"/>
<circle cx="742.1" cy="1813.7" r="11.6" fill="url(#gm)"/>
<circle cx="699.5" cy="1794.5" r="11.6" fill="url(#gm)"/>
<circle cx="703.7" cy="1809.5" r="11.6" fill="url(#gm)"/>
<circle cx="661.1" cy="1794.5" r="11.6" fill="url(#gb)"/>
<circle cx="565.1" cy="1794.5" r="11.6" fill="url(#gb)"/>
<circle cx="589.7" cy="1797.7" r="11.6" fill="url(#gb)"/>
<circle cx="618.4" cy="1810.5" r="11.6" fill="url(#gb)"/>
<circle cx="554.5" cy="1815.9" r="11.6" fill="url(#gm)"/>
<circle cx="557.7" cy="1829.7" r="11.6" fill="url(#gb)"/>
<circle cx="510.8" cy="1823.3" r="11.6" fill="url(#gb)"/>
<circle cx="470.3" cy="1794.5" r="7" fill="url(#gb)"/>
<circle cx="485.2" cy="1845.7" r="11.6" fill="url(#gb)"/>
<circle cx="618.4" cy="1837.2" r="11.6" fill="url(#gm)"/>
<circle cx="617.4" cy="1862.8" r="11.6" fill="url(#gm)"/>
<circle cx="599.3" cy="1845.7" r="11.6" fill="url(#gb)"/>
<circle cx="622.7" cy="1886.2" r="11.6" fill="url(#gm)"/>
<circle cx="528.9" cy="1879.8" r="11.6" fill="url(#gb)"/>
<circle cx="677.1" cy="1847.8" r="11.6" fill="url(#gb)"/>
<circle cx="677.1" cy="1869.2" r="11.6" fill="url(#gb)"/>
<circle cx="697.3" cy="1858.5" r="11.6" fill="url(#gm)"/>
<circle cx="718.7" cy="1843.6" r="11.6" fill="url(#gb)"/>
<circle cx="740.0" cy="1839.3" r="11.6" fill="url(#gm)"/>
<circle cx="737.8" cy="1813.7" r="11.6" fill="url(#gm)"/>
<circle cx="759.2" cy="1852.1" r="11.6" fill="url(#gm)"/>
<circle cx="782.6" cy="1837.2" r="11.6" fill="url(#gm)"/>
<circle cx="778.4" cy="1864.9" r="11.6" fill="url(#gb)"/>
<circle cx="799.7" cy="1847.8" r="11.6" fill="url(#gb)"/>
<circle cx="810.3" cy="1871.3" r="11.6" fill="url(#gm)"/>
<circle cx="835.9" cy="1828.7" r="11.6" fill="url(#gb)"/>
<circle cx="844.5" cy="1837.2" r="11.6" fill="url(#gm)"/>
<circle cx="772.0" cy="1892.6" r="11.6" fill="url(#gb)"/>
<circle cx="825.3" cy="1890.5" r="11.6" fill="url(#gb)"/>
<circle cx="840.2" cy="1905.4" r="11.6" fill="url(#gm)"/>
<circle cx="697.3" cy="1896.9" r="11.6" fill="url(#gb)"/>
<circle cx="718.7" cy="1903.3" r="11.6" fill="url(#gm)"/>
<circle cx="663.2" cy="1903.3" r="7" fill="url(#gb)"/>
<circle cx="679.2" cy="1922.5" r="11.6" fill="url(#gm)"/>
<circle cx="703.7" cy="1920.3" r="11.6" fill="url(#gm)"/>
<circle cx="727.2" cy="1920.3" r="11.6" fill="url(#gb)"/>
<circle cx="456.4" cy="1920.3" r="11.6" fill="url(#gm)"/>
<circle cx="546.0" cy="1914.0" r="11.6" fill="url(#gb)"/>
<circle cx="562.0" cy="1941.7" r="11.6" fill="url(#gb)"/>
<circle cx="524.6" cy="1941.7" r="11.6" fill="url(#gb)"/>
<circle cx="507.6" cy="1954.5" r="11.6" fill="url(#gb)"/>
<circle cx="590.7" cy="1956.6" r="11.6" fill="url(#gm)"/>
<circle cx="618.4" cy="1956.6" r="11.6" fill="url(#gb)"/>
<circle cx="656.8" cy="1956.6" r="11.6" fill="url(#gb)"/>
<circle cx="763.4" cy="1931.0" r="11.6" fill="url(#gb)"/>
<circle cx="782.6" cy="1931.0" r="11.6" fill="url(#gb)"/>
<circle cx="825.3" cy="1933.1" r="11.6" fill="url(#gm)"/>
<circle cx="835.9" cy="1935.3" r="11.6" fill="url(#gb)"/>
<circle cx="799.7" cy="1952.3" r="11.6" fill="url(#gm)"/>
<circle cx="851.3" cy="1836.7" r="11.6" fill="url(#gm)"/>
<circle cx="855.3" cy="1922.0" r="11.6" fill="url(#gb)"/>
<circle cx="858.4" cy="1942.0" r="11.6" fill="url(#gb)"/>
<circle cx="876.5" cy="1946.3" r="11.6" fill="url(#gm)"/>
<circle cx="896.6" cy="1954.4" r="11.6" fill="url(#gb)"/>
<circle cx="690.7" cy="1465.6" r="11.6" fill="url(#gm)"/>
<circle cx="700.9" cy="1507.1" r="11.6" fill="url(#gm)"/>
<circle cx="573.6" cy="1502.3" r="11.6" fill="url(#gb)"/>
<circle cx="616.2" cy="1525.4" r="11.6" fill="url(#gb)"/>
<circle cx="166.2" cy="1968.5" r="11.6" fill="url(#gm)"/>
<circle cx="200.3" cy="1966.4" r="11.6" fill="url(#gb)"/>
<circle cx="153.4" cy="1989.9" r="11.6" fill="url(#gb)"/>
<circle cx="196.0" cy="1993.0" r="11.6" fill="url(#gb)"/>
<circle cx="230.2" cy="1995.2" r="11.6" fill="url(#gm)"/>
<circle cx="248.3" cy="1970.7" r="11.6" fill="url(#gb)"/>
<circle cx="269.6" cy="1964.3" r="11.6" fill="url(#gm)"/>
<circle cx="263.2" cy="1981.3" r="11.6" fill="url(#gb)"/>
<circle cx="282.4" cy="1977.0" r="11.6" fill="url(#gb)"/>
<circle cx="276.0" cy="1987.7" r="11.6" fill="url(#gm)"/>
<circle cx="303.7" cy="1970.7" r="11.6" fill="url(#gb)"/>
<circle cx="284.5" cy="1998.4" r="11.6" fill="url(#gb)"/>
<circle cx="251.5" cy="1998.4" r="11.6" fill="url(#gb)"/>
<circle cx="261.1" cy="2017.6" r="11.6" fill="url(#gb)"/>
<circle cx="180.1" cy="2013.3" r="11.6" fill="url(#gb)"/>
<circle cx="184.3" cy="2024.0" r="11.6" fill="url(#gb)"/>
<circle cx="216.3" cy="2010.1" r="11.6" fill="url(#gb)"/>
<circle cx="224.8" cy="2011.2" r="11.6" fill="url(#gm)"/>
<circle cx="209.9" cy="2032.5" r="11.6" fill="url(#gb)"/>
<circle cx="235.5" cy="2042.1" r="11.6" fill="url(#gm)"/>
<circle cx="205.7" cy="2058.1" r="11.6" fill="url(#gb)"/>
<circle cx="212.0" cy="2060.2" r="11.6" fill="url(#gm)"/>
<circle cx="254.7" cy="2053.8" r="11.6" fill="url(#gb)"/>
<circle cx="257.9" cy="2053.8" r="11.6" fill="url(#gm)"/>
<circle cx="290.9" cy="2051.7" r="11.6" fill="url(#gb)"/>
<circle cx="231.2" cy="2076.2" r="11.6" fill="url(#gb)"/>
<circle cx="244.0" cy="2085.8" r="11.6" fill="url(#gm)"/>
<circle cx="273.9" cy="2083.7" r="11.6" fill="url(#gb)"/>
<circle cx="255.8" cy="2098.6" r="11.6" fill="url(#gb)"/>
<circle cx="273.9" cy="2100.7" r="11.6" fill="url(#gb)"/>
<circle cx="297.3" cy="2075.1" r="11.6" fill="url(#gm)"/>
<circle cx="318.7" cy="2079.4" r="11.6" fill="url(#gm)"/>
<circle cx="293.1" cy="2092.2" r="11.6" fill="url(#gm)"/>
<circle cx="329.3" cy="2092.2" r="11.6" fill="url(#gb)"/>
<circle cx="300.5" cy="2109.3" r="11.6" fill="url(#gb)"/>
<circle cx="329.3" cy="2117.8" r="11.6" fill="url(#gm)"/>
<circle cx="335.7" cy="2041.0" r="11.6" fill="url(#gm)"/>
<circle cx="335.7" cy="2065.5" r="11.6" fill="url(#gb)"/>
<circle cx="389.0" cy="2036.8" r="11.6" fill="url(#gb)"/>
<circle cx="418.9" cy="2058.1" r="11.6" fill="url(#gb)"/>
<circle cx="401.8" cy="2073.0" r="11.6" fill="url(#gm)"/>
<circle cx="365.6" cy="2116.7" r="11.6" fill="url(#gb)"/>
<circle cx="446.6" cy="2019.7" r="11.6" fill="url(#gm)"/>
<circle cx="442.3" cy="2130.6" r="11.6" fill="url(#gm)"/>
<circle cx="180.1" cy="2096.5" r="11.6" fill="url(#gm)"/>
<circle cx="192.9" cy="2096.5" r="11.6" fill="url(#gb)"/>
<circle cx="255.8" cy="2113.5" r="11.6" fill="url(#gm)"/>
<circle cx="229.1" cy="2143.4" r="11.6" fill="url(#gm)"/>
<circle cx="241.9" cy="2134.8" r="11.6" fill="url(#gm)"/>
<circle cx="257.9" cy="2139.1" r="11.6" fill="url(#gm)"/>
<circle cx="276.0" cy="2132.7" r="11.6" fill="url(#gm)"/>
<circle cx="310.1" cy="2160.4" r="11.6" fill="url(#gm)"/>
<circle cx="331.4" cy="2171.1" r="11.6" fill="url(#gm)"/>
<circle cx="269.6" cy="2175.4" r="11.6" fill="url(#gm)"/>
<circle cx="295.2" cy="2181.7" r="11.6" fill="url(#gb)"/>
<circle cx="284.5" cy="2190.3" r="11.6" fill="url(#gm)"/>
<circle cx="299.5" cy="2192.4" r="11.6" fill="url(#gm)"/>
<circle cx="316.5" cy="2183.9" r="11.6" fill="url(#gm)"/>
<circle cx="278.1" cy="2207.3" r="11.6" fill="url(#gb)"/>
<circle cx="293.1" cy="2209.5" r="11.6" fill="url(#gm)"/>
<circle cx="321.9" cy="2209.5" r="11.6" fill="url(#gb)"/>
<circle cx="261.1" cy="2224.4" r="11.6" fill="url(#gm)"/>
<circle cx="281.3" cy="2235.1" r="11.6" fill="url(#gm)"/>
<circle cx="346.4" cy="2201.0" r="11.6" fill="url(#gm)"/>
<circle cx="350.6" cy="2224.4" r="11.6" fill="url(#gm)"/>
<circle cx="331.4" cy="2230.8" r="11.6" fill="url(#gb)"/>
<circle cx="331.4" cy="2250.0" r="11.6" fill="url(#gm)"/>
<circle cx="329.3" cy="2260.6" r="11.6" fill="url(#gb)"/>
<circle cx="310.1" cy="2247.8" r="11.6" fill="url(#gm)"/>
<circle cx="359.2" cy="2250.0" r="11.6" fill="url(#gm)"/>
<circle cx="365.6" cy="2260.6" r="11.6" fill="url(#gb)"/>
<circle cx="302.7" cy="2279.8" r="11.6" fill="url(#gm)"/>
<circle cx="360.2" cy="2279.8" r="11.6" fill="url(#gm)"/>
<circle cx="389.0" cy="2160.4" r="11.6" fill="url(#gb)"/>
<circle cx="409.3" cy="2172.2" r="11.6" fill="url(#gb)"/>
<circle cx="365.6" cy="2186.0" r="11.6" fill="url(#gb)"/>
<circle cx="376.2" cy="2211.6" r="11.6" fill="url(#gm)"/>
<circle cx="399.7" cy="2218.0" r="11.6" fill="url(#gm)"/>
<circle cx="397.5" cy="2230.8" r="11.6" fill="url(#gb)"/>
<circle cx="421.0" cy="2218.0" r="11.6" fill="url(#gm)"/>
<circle cx="444.5" cy="2228.7" r="11.6" fill="url(#gm)"/>
<circle cx="442.3" cy="2243.6" r="11.6" fill="url(#gb)"/>
<circle cx="410.3" cy="2260.6" r="11.6" fill="url(#gm)"/>
<circle cx="444.5" cy="2271.3" r="11.6" fill="url(#gb)"/>
<circle cx="442.3" cy="2286.2" r="11.6" fill="url(#gb)"/>
<circle cx="443.4" cy="2303.3" r="11.6" fill="url(#gb)"/>
<circle cx="377.3" cy="2305.4" r="11.6" fill="url(#gm)"/>
<circle cx="408.2" cy="2310.7" r="11.6" fill="url(#gm)"/>
<circle cx="359.2" cy="2326.7" r="11.6" fill="url(#gm)"/>
<circle cx="340.0" cy="2345.9" r="11.6" fill="url(#gm)"/>
<circle cx="359.2" cy="2348.1" r="11.6" fill="url(#gm)"/>
<circle cx="406.1" cy="2339.5" r="11.6" fill="url(#gb)"/>
<circle cx="429.5" cy="2356.6" r="11.6" fill="url(#gb)"/>
<circle cx="391.2" cy="1972.8" r="11.6" fill="url(#gb)"/>
<circle cx="412.5" cy="1964.3" r="11.6" fill="url(#gm)"/>
<circle cx="357.0" cy="1964.3" r="11.6" fill="url(#gm)"/>
<circle cx="464.9" cy="1983.5" r="11.6" fill="url(#gb)"/>
<circle cx="496.9" cy="1972.8" r="11.6" fill="url(#gm)"/>
<circle cx="520.4" cy="1974.9" r="11.6" fill="url(#gm)"/>
<circle cx="492.6" cy="1992.0" r="11.6" fill="url(#gb)"/>
<circle cx="460.7" cy="2011.2" r="11.6" fill="url(#gm)"/>
<circle cx="590.7" cy="1962.1" r="11.6" fill="url(#gm)"/>
<circle cx="618.4" cy="1964.3" r="11.6" fill="url(#gb)"/>
<circle cx="656.8" cy="1964.3" r="11.6" fill="url(#gb)"/>
<circle cx="701.6" cy="1966.4" r="11.6" fill="url(#gm)"/>
<circle cx="606.7" cy="1985.6" r="11.6" fill="url(#gm)"/>
<circle cx="620.6" cy="1994.1" r="11.6" fill="url(#gm)"/>
<circle cx="572.6" cy="2019.7" r="11.6" fill="url(#gb)"/>
<circle cx="591.8" cy="2012.2" r="11.6" fill="url(#gm)"/>
<circle cx="601.4" cy="2028.2" r="11.6" fill="url(#gb)"/>
<circle cx="669.6" cy="2013.3" r="11.6" fill="url(#gm)"/>
<circle cx="669.6" cy="2024.0" r="11.6" fill="url(#gb)"/>
<circle cx="722.9" cy="2009.0" r="11.6" fill="url(#gm)"/>
<circle cx="719.7" cy="2016.5" r="11.6" fill="url(#gb)"/>
<circle cx="763.4" cy="1966.4" r="11.6" fill="url(#gm)"/>
<circle cx="782.6" cy="1962.1" r="11.6" fill="url(#gb)"/>
<circle cx="816.7" cy="1966.4" r="11.6" fill="url(#gm)"/>
<circle cx="842.3" cy="1972.8" r="11.6" fill="url(#gb)"/>
<circle cx="769.8" cy="1992.0" r="11.6" fill="url(#gb)"/>
<circle cx="778.4" cy="2000.5" r="11.6" fill="url(#gb)"/>
<circle cx="799.7" cy="1985.6" r="11.6" fill="url(#gb)"/>
<circle cx="797.5" cy="2004.8" r="11.6" fill="url(#gb)"/>
<circle cx="824.2" cy="1998.4" r="11.6" fill="url(#gb)"/>
<circle cx="844.5" cy="2019.7" r="11.6" fill="url(#gb)"/>
<circle cx="535.3" cy="2049.6" r="11.6" fill="url(#gm)"/>
<circle cx="556.6" cy="2038.9" r="11.6" fill="url(#gm)"/>
<circle cx="551.3" cy="2051.7" r="11.6" fill="url(#gm)"/>
<circle cx="569.4" cy="2054.9" r="11.6" fill="url(#gb)"/>
<circle cx="574.7" cy="2073.0" r="11.6" fill="url(#gm)"/>
<circle cx="575.8" cy="2083.7" r="11.6" fill="url(#gb)"/>
<circle cx="478.8" cy="2089.0" r="11.6" fill="url(#gb)"/>
<circle cx="629.1" cy="2075.1" r="11.6" fill="url(#gm)"/>
<circle cx="606.7" cy="2092.2" r="11.6" fill="url(#gm)"/>
<circle cx="514.0" cy="2113.5" r="11.6" fill="url(#gb)"/>
<circle cx="526.8" cy="2102.9" r="11.6" fill="url(#gb)"/>
<circle cx="539.6" cy="2109.3" r="11.6" fill="url(#gb)"/>
<circle cx="611.0" cy="2124.2" r="11.6" fill="url(#gm)"/>
<circle cx="638.7" cy="2113.5" r="11.6" fill="url(#gb)"/>
<circle cx="641.9" cy="2134.8" r="11.6" fill="url(#gm)"/>
<circle cx="452.1" cy="2130.6" r="11.6" fill="url(#gm)"/>
<circle cx="690.9" cy="2041.0" r="11.6" fill="url(#gm)"/>
<circle cx="684.5" cy="2064.5" r="11.6" fill="url(#gm)"/>
<circle cx="718.7" cy="2057.0" r="11.6" fill="url(#gb)"/>
<circle cx="708.0" cy="2079.4" r="11.6" fill="url(#gm)"/>
<circle cx="680.3" cy="2087.9" r="11.6" fill="url(#gb)"/>
<circle cx="680.3" cy="2107.1" r="11.6" fill="url(#gb)"/>
<circle cx="699.5" cy="2105.0" r="11.6" fill="url(#gb)"/>
<circle cx="720.8" cy="2094.3" r="11.6" fill="url(#gb)"/>
<circle cx="718.7" cy="2115.7" r="11.6" fill="url(#gm)"/>
<circle cx="731.4" cy="2126.3" r="11.6" fill="url(#gm)"/>
<circle cx="746.4" cy="2102.9" r="11.6" fill="url(#gb)"/>
<circle cx="693.0" cy="2130.6" r="11.6" fill="url(#gm)"/>
<circle cx="676.0" cy="2141.2" r="11.6" fill="url(#gm)"/>
<circle cx="691.0" cy="2151.9" r="11.6" fill="url(#gb)"/>
<circle cx="675.0" cy="2164.7" r="11.6" fill="url(#gb)"/>
<circle cx="744.2" cy="2151.9" r="11.6" fill="url(#gm)"/>
<circle cx="757.0" cy="2038.9" r="11.6" fill="url(#gm)"/>
<circle cx="746.4" cy="2056.0" r="11.6" fill="url(#gb)"/>
<circle cx="757.0" cy="2066.6" r="11.6" fill="url(#gm)"/>
<circle cx="774.1" cy="2066.6" r="11.6" fill="url(#gb)"/>
<circle cx="791.2" cy="2032.5" r="11.6" fill="url(#gm)"/>
<circle cx="789.0" cy="2053.8" r="11.6" fill="url(#gm)"/>
<circle cx="816.7" cy="2051.7" r="11.6" fill="url(#gb)"/>
<circle cx="846.6" cy="2060.2" r="11.6" fill="url(#gb)"/>
<circle cx="829.5" cy="2096.5" r="11.6" fill="url(#gm)"/>
<circle cx="812.5" cy="2100.7" r="11.6" fill="url(#gb)"/>
<circle cx="824.2" cy="2117.8" r="11.6" fill="url(#gb)"/>
<circle cx="848.7" cy="2109.3" r="11.6" fill="url(#gb)"/>
<circle cx="800.7" cy="2145.5" r="11.6" fill="url(#gb)"/>
<circle cx="721.9" cy="2173.2" r="11.6" fill="url(#gm)"/>
<circle cx="761.3" cy="2188.1" r="11.6" fill="url(#gm)"/>
<circle cx="806.1" cy="2181.7" r="11.6" fill="url(#gb)"/>
<circle cx="600.3" cy="2164.7" r="11.6" fill="url(#gm)"/>
<circle cx="544.9" cy="2194.5" r="11.6" fill="url(#gm)"/>
<circle cx="566.2" cy="2199.9" r="11.6" fill="url(#gb)"/>
<circle cx="505.4" cy="2208.4" r="11.6" fill="url(#gm)"/>
<circle cx="615.2" cy="2208.4" r="11.6" fill="url(#gm)"/>
<circle cx="641.9" cy="2228.7" r="11.6" fill="url(#gm)"/>
<circle cx="591.8" cy="2231.9" r="11.6" fill="url(#gm)"/>
<circle cx="786.9" cy="2224.4" r="11.6" fill="url(#gb)"/>
<circle cx="452.1" cy="2230.8" r="11.6" fill="url(#gm)"/>
<circle cx="460.7" cy="2232.9" r="11.6" fill="url(#gb)"/>
<circle cx="511.8" cy="2237.2" r="11.6" fill="url(#gm)"/>
<circle cx="524.6" cy="2235.1" r="11.6" fill="url(#gm)"/>
<circle cx="522.5" cy="2243.6" r="11.6" fill="url(#gm)"/>
<circle cx="537.4" cy="2250.0" r="11.6" fill="url(#gb)"/>
<circle cx="554.5" cy="2262.8" r="11.6" fill="url(#gm)"/>
<circle cx="471.3" cy="2267.0" r="11.6" fill="url(#gm)"/>
<circle cx="588.6" cy="2260.6" r="11.6" fill="url(#gm)"/>
<circle cx="673.9" cy="2247.8" r="11.6" fill="url(#gm)"/>
<circle cx="705.9" cy="2243.6" r="11.6" fill="url(#gb)"/>
<circle cx="716.5" cy="2239.3" r="11.6" fill="url(#gb)"/>
<circle cx="742.1" cy="2241.4" r="11.6" fill="url(#gm)"/>
<circle cx="654.7" cy="2267.0" r="11.6" fill="url(#gm)"/>
<circle cx="741.0" cy="2262.8" r="11.6" fill="url(#gm)"/>
<circle cx="709.1" cy="2269.2" r="11.6" fill="url(#gb)"/>
<circle cx="846.6" cy="2254.2" r="11.6" fill="url(#gm)"/>
<circle cx="455.3" cy="2282.0" r="11.6" fill="url(#gb)"/>
<circle cx="501.2" cy="2279.8" r="11.6" fill="url(#gb)"/>
<circle cx="524.6" cy="2275.6" r="11.6" fill="url(#gb)"/>
<circle cx="533.2" cy="2284.1" r="11.6" fill="url(#gb)"/>
<circle cx="554.5" cy="2284.1" r="11.6" fill="url(#gm)"/>
<circle cx="480.9" cy="2296.9" r="11.6" fill="url(#gm)"/>
<circle cx="514.0" cy="2299.0" r="11.6" fill="url(#gb)"/>
<circle cx="505.4" cy="2311.8" r="11.6" fill="url(#gm)"/>
<circle cx="452.1" cy="2303.3" r="11.6" fill="url(#gb)"/>
<circle cx="643.0" cy="2292.6" r="11.6" fill="url(#gb)"/>
<circle cx="590.7" cy="2309.7" r="11.6" fill="url(#gb)"/>
<circle cx="599.3" cy="2316.1" r="11.6" fill="url(#gm)"/>
<circle cx="750.6" cy="2290.5" r="11.6" fill="url(#gm)"/>
<circle cx="769.8" cy="2303.3" r="11.6" fill="url(#gm)"/>
<circle cx="782.6" cy="2316.1" r="11.6" fill="url(#gb)"/>
<circle cx="801.8" cy="2309.7" r="11.6" fill="url(#gm)"/>
<circle cx="733.6" cy="2320.3" r="11.6" fill="url(#gb)"/>
<circle cx="653.6" cy="2322.5" r="11.6" fill="url(#gm)"/>
<circle cx="661.1" cy="2341.7" r="11.6" fill="url(#gb)"/>
<circle cx="475.6" cy="2324.6" r="11.6" fill="url(#gb)"/>
<circle cx="463.9" cy="2343.8" r="11.6" fill="url(#gb)"/>
<circle cx="516.1" cy="2339.5" r="11.6" fill="url(#gm)"/>
<circle cx="492.6" cy="2356.6" r="11.6" fill="url(#gb)"/>
<circle cx="580.1" cy="2354.5" r="11.6" fill="url(#gb)"/>
<circle cx="902.6" cy="1964.1" r="11.6" fill="url(#gm)"/>
<circle cx="864.4" cy="1962.1" r="11.6" fill="url(#gb)"/>
<circle cx="914.7" cy="1979.2" r="11.6" fill="url(#gb)"/>
<circle cx="890.5" cy="2006.4" r="11.6" fill="url(#gm)"/>
<circle cx="852.3" cy="2020.5" r="11.6" fill="url(#gb)"/>
<circle cx="910.7" cy="2031.5" r="11.6" fill="url(#gm)"/>
<circle cx="926.8" cy="2043.6" r="11.6" fill="url(#gb)"/>
<circle cx="907.6" cy="2049.7" r="11.6" fill="url(#gb)"/>
<circle cx="860.4" cy="2044.6" r="11.6" fill="url(#gm)"/>
<circle cx="874.4" cy="2062.7" r="11.6" fill="url(#gm)"/>
<circle cx="900.6" cy="2076.8" r="11.6" fill="url(#gm)"/>
<circle cx="866.4" cy="2086.9" r="11.6" fill="url(#gm)"/>
<circle cx="923.7" cy="2100.0" r="11.6" fill="url(#gm)"/>
<circle cx="947.9" cy="2107.0" r="11.6" fill="url(#gm)"/>
<circle cx="851.3" cy="2121.1" r="11.6" fill="url(#gm)"/>
<circle cx="893.6" cy="2125.1" r="11.6" fill="url(#gb)"/>
<circle cx="898.6" cy="2147.2" r="11.6" fill="url(#gm)"/>
<circle cx="913.7" cy="2156.3" r="11.6" fill="url(#gm)"/>
<circle cx="953.9" cy="2137.2" r="11.6" fill="url(#gb)"/>
<circle cx="946.9" cy="2154.3" r="11.6" fill="url(#gm)"/>
<circle cx="872.4" cy="2243.8" r="11.6" fill="url(#gm)"/>
<circle cx="941.9" cy="2250.9" r="11.6" fill="url(#gb)"/>
<circle cx="427.9" cy="2364.5" r="11.6" fill="url(#gb)"/>
<circle cx="493.0" cy="2362.4" r="11.6" fill="url(#gb)"/>
<circle cx="536.7" cy="2378.4" r="11.6" fill="url(#gm)"/>
<circle cx="344.8" cy="2390.1" r="11.6" fill="url(#gb)"/>
<circle cx="402.3" cy="2394.4" r="11.6" fill="url(#gb)"/>
<circle cx="408.7" cy="2382.6" r="11.6" fill="url(#gb)"/>
<circle cx="425.8" cy="2383.7" r="11.6" fill="url(#gm)"/>
<circle cx="392.8" cy="2434.9" r="11.6" fill="url(#gm)"/>
<circle cx="408.7" cy="2461.5" r="11.6" fill="url(#gb)"/>
<line x1="687.5" y1="1730.9" x2="277.7" y2="2282.3" stroke="#f01818" stroke-width="7.5" stroke-dasharray="71 31"/>
<polygon points="714.4,1694.8 699.7,1731.3 683.7,1719.3" fill="#f01818"/>
<line x1="1228.3" y1="1459" x2="1228.3" y2="2381.5" stroke="#1e1e1e" stroke-width="3"/>
<line x1="1226.8" y1="2380.1" x2="2374" y2="2380.1" stroke="#1e1e1e" stroke-width="3"/>
<line x1="1220.3" y1="2379.7" x2="1228.3" y2="2379.7" stroke="#1e1e1e" stroke-width="3"/>
<line x1="1211.3" y1="2318.4" x2="1228.3" y2="2318.4" stroke="#1e1e1e" stroke-width="3"/>
<text x="1197" y="2329.9" font-family="Liberation Sans, Arial, sans-serif" font-weight="bold" font-size="42" text-anchor="end" fill="#111">0</text>
<line x1="1220.3" y1="2257.1" x2="1228.3" y2="2257.1" stroke="#1e1e1e" stroke-width="3"/>
<line x1="1211.3" y1="2195.8" x2="1228.3" y2="2195.8" stroke="#1e1e1e" stroke-width="3"/>
<text x="1197" y="2207.3" font-family="Liberation Sans, Arial, sans-serif" font-weight="bold" font-size="42" text-anchor="end" fill="#111">10</text>
<line x1="1220.3" y1="2134.5" x2="1228.3" y2="2134.5" stroke="#1e1e1e" stroke-width="3"/>
<line x1="1211.3" y1="2073.3" x2="1228.3" y2="2073.3" stroke="#1e1e1e" stroke-width="3"/>
<text x="1197" y="2084.8" font-family="Liberation Sans, Arial, sans-serif" font-weight="bold" font-size="42" text-anchor="end" fill="#111">20</text>
<line x1="1220.3" y1="2012.0" x2="1228.3" y2="2012.0" stroke="#1e1e1e" stroke-width="3"/>
<line x1="1211.3" y1="1950.7" x2="1228.3" y2="1950.7" stroke="#1e1e1e" stroke-width="3"/>
<text x="1197" y="1962.2" font-family="Liberation Sans, Arial, sans-serif" font-weight="bold" font-size="42" text-anchor="end" fill="#111">30</text>
<line x1="1220.3" y1="1889.4" x2="1228.3" y2="1889.4" stroke="#1e1e1e" stroke-width="3"/>
<line x1="1211.3" y1="1828.1" x2="1228.3" y2="1828.1" stroke="#1e1e1e" stroke-width="3"/>
<text x="1197" y="1839.6" font-family="Liberation Sans, Arial, sans-serif" font-weight="bold" font-size="42" text-anchor="end" fill="#111">40</text>
<line x1="1220.3" y1="1766.8" x2="1228.3" y2="1766.8" stroke="#1e1e1e" stroke-width="3"/>
<line x1="1211.3" y1="1705.6" x2="1228.3" y2="1705.6" stroke="#1e1e1e" stroke-width="3"/>
<text x="1197" y="1717.1" font-family="Liberation Sans, Arial, sans-serif" font-weight="bold" font-size="42" text-anchor="end" fill="#111">50</text>
<line x1="1220.3" y1="1644.3" x2="1228.3" y2="1644.3" stroke="#1e1e1e" stroke-width="3"/>
<line x1="1211.3" y1="1583.0" x2="1228.3" y2="1583.0" stroke="#1e1e1e" stroke-width="3"/>
<text x="1197" y="1594.5" font-family="Liberation Sans, Arial, sans-serif" font-weight="bold" font-size="42" text-anchor="end" fill="#111">60</text>
<line x1="1220.3" y1="1521.7" x2="1228.3" y2="1521.7" stroke="#1e1e1e" stroke-width="3"/>
<line x1="1211.3" y1="1460.4" x2="1228.3" y2="1460.4" stroke="#1e1e1e" stroke-width="3"/>
<text x="1197" y="1471.9" font-family="Liberation Sans, Arial, sans-serif" font-weight="bold" font-size="42" text-anchor="end" fill="#111">70</text>
<line x1="1229.2" y1="2380.1" x2="1229.2" y2="2388.6" stroke="#1e1e1e" stroke-width="3"/>
<line x1="1310.9" y1="2380.1" x2="1310.9" y2="2397.1" stroke="#1e1e1e" stroke-width="3"/>
<text x="1311.4" y="2440.5" font-family="Liberation Sans, Arial, sans-serif" font-weight="bold" font-size="41" text-anchor="middle" fill="#111">0</text>
<line x1="1392.6" y1="2380.1" x2="1392.6" y2="2388.6" stroke="#1e1e1e" stroke-width="3"/>
<line x1="1474.3" y1="2380.1" x2="1474.3" y2="2397.1" stroke="#1e1e1e" stroke-width="3"/>
<text x="1474.8" y="2440.5" font-family="Liberation Sans, Arial, sans-serif" font-weight="bold" font-size="41" text-anchor="middle" fill="#111">2</text>
<line x1="1555.9" y1="2380.1" x2="1555.9" y2="2388.6" stroke="#1e1e1e" stroke-width="3"/>
<line x1="1637.6" y1="2380.1" x2="1637.6" y2="2397.1" stroke="#1e1e1e" stroke-width="3"/>
<text x="1638.1" y="2440.5" font-family="Liberation Sans, Arial, sans-serif" font-weight="bold" font-size="41" text-anchor="middle" fill="#111">4</text>
<line x1="1719.3" y1="2380.1" x2="1719.3" y2="2388.6" stroke="#1e1e1e" stroke-width="3"/>
<line x1="1801.0" y1="2380.1" x2="1801.0" y2="2397.1" stroke="#1e1e1e" stroke-width="3"/>
<text x="1801.5" y="2440.5" font-family="Liberation Sans, Arial, sans-serif" font-weight="bold" font-size="41" text-anchor="middle" fill="#111">6</text>
<line x1="1882.7" y1="2380.1" x2="1882.7" y2="2388.6" stroke="#1e1e1e" stroke-width="3"/>
<line x1="1964.3" y1="2380.1" x2="1964.3" y2="2397.1" stroke="#1e1e1e" stroke-width="3"/>
<text x="1964.8" y="2440.5" font-family="Liberation Sans, Arial, sans-serif" font-weight="bold" font-size="41" text-anchor="middle" fill="#111">8</text>
<line x1="2046.0" y1="2380.1" x2="2046.0" y2="2388.6" stroke="#1e1e1e" stroke-width="3"/>
<line x1="2127.7" y1="2380.1" x2="2127.7" y2="2397.1" stroke="#1e1e1e" stroke-width="3"/>
<text x="2128.2" y="2440.5" font-family="Liberation Sans, Arial, sans-serif" font-weight="bold" font-size="41" text-anchor="middle" fill="#111">10</text>
<line x1="2209.4" y1="2380.1" x2="2209.4" y2="2388.6" stroke="#1e1e1e" stroke-width="3"/>
<line x1="2291.1" y1="2380.1" x2="2291.1" y2="2397.1" stroke="#1e1e1e" stroke-width="3"/>
<text x="2291.6" y="2440.5" font-family="Liberation Sans, Arial, sans-serif" font-weight="bold" font-size="41" text-anchor="middle" fill="#111">12</text>
<line x1="2372.7" y1="2380.1" x2="2372.7" y2="2388.6" stroke="#1e1e1e" stroke-width="3"/>
<text x="1640" y="2517" font-family="Liberation Sans, Arial, sans-serif" font-weight="bold" font-size="45" fill="#111" textLength="319" lengthAdjust="spacingAndGlyphs">Distance (nm)</text>
<text transform="translate(1100.5,2124) rotate(-90)" x="0" y="0" font-family="Liberation Sans, Arial, sans-serif" font-weight="bold" font-size="45" fill="#111" textLength="454" lengthAdjust="spacingAndGlyphs">Composition (at. %)</text>
<path d="M1310.9 2272.4V2320.3M1302.9 2272.4h16M1302.9 2320.3h16" stroke="#f040f0" stroke-width="2" opacity="0.55" fill="none"/>
<path d="M1319.1 2238.9V2299.9M1311.1 2238.9h16M1311.1 2299.9h16" stroke="#f040f0" stroke-width="2" opacity="0.55" fill="none"/>
<path d="M1327.2 2219.9V2287.0M1319.2 2219.9h16M1319.2 2287.0h16" stroke="#f040f0" stroke-width="2" opacity="0.55" fill="none"/>
<path d="M1335.4 2235.9V2302.8M1327.4 2235.9h16M1327.4 2302.8h16" stroke="#f040f0" stroke-width="2" opacity="0.55" fill="none"/>
<path d="M1343.6 2172.9V2248.1M1335.6 2172.9h16M1335.6 2248.1h16" stroke="#f040f0" stroke-width="2" opacity="0.55" fill="none"/>
<path d="M1351.7 2230.6V2298.4M1343.7 2230.6h16M1343.7 2298.4h16" stroke="#f040f0" stroke-width="2" opacity="0.55" fill="none"/>
<path d="M1359.9 2217.4V2265.0M1351.9 2217.4h16M1351.9 2265.0h16" stroke="#f040f0" stroke-width="2" opacity="0.55" fill="none"/>
<path d="M1368.1 2194.6V2258.4M1360.1 2194.6h16M1360.1 2258.4h16" stroke="#f040f0" stroke-width="2" opacity="0.55" fill="none"/>
<path d="M1376.2 2169.9V2251.1M1368.2 2169.9h16M1368.2 2251.1h16" stroke="#f040f0" stroke-width="2" opacity="0.55" fill="none"/>
<path d="M1384.4 2162.2V2236.9M1376.4 2162.2h16M1376.4 2236.9h16" stroke="#f040f0" stroke-width="2" opacity="0.55" fill="none"/>
<path d="M1392.6 2145.0V2229.5M1384.6 2145.0h16M1384.6 2229.5h16" stroke="#f040f0" stroke-width="2" opacity="0.55" fill="none"/>
<path d="M1400.7 2220.3V2269.4M1392.7 2220.3h16M1392.7 2269.4h16" stroke="#f040f0" stroke-width="2" opacity="0.55" fill="none"/>
<path d="M1408.9 2151.4V2223.1M1400.9 2151.4h16M1400.9 2223.1h16" stroke="#f040f0" stroke-width="2" opacity="0.55" fill="none"/>
<path d="M1417.1 2084.3V2160.2M1409.1 2084.3h16M1409.1 2160.2h16" stroke="#f040f0" stroke-width="2" opacity="0.55" fill="none"/>
<path d="M1425.3 2074.7V2160.1M1417.3 2074.7h16M1417.3 2160.1h16" stroke="#f040f0" stroke-width="2" opacity="0.55" fill="none"/>
<path d="M1433.4 2058.5V2146.9M1425.4 2058.5h16M1425.4 2146.9h16" stroke="#f040f0" stroke-width="2" opacity="0.55" fill="none"/>
<path d="M1441.6 2078.6V2148.9M1433.6 2078.6h16M1433.6 2148.9h16" stroke="#f040f0" stroke-width="2" opacity="0.55" fill="none"/>
<path d="M1449.8 2054.5V2133.6M1441.8 2054.5h16M1441.8 2133.6h16" stroke="#f040f0" stroke-width="2" opacity="0.55" fill="none"/>
<path d="M1457.9 2037.9V2120.9M1449.9 2037.9h16M1449.9 2120.9h16" stroke="#f040f0" stroke-width="2" opacity="0.55" fill="none"/>
<path d="M1466.1 2136.8V2223.0M1458.1 2136.8h16M1458.1 2223.0h16" stroke="#f040f0" stroke-width="2" opacity="0.55" fill="none"/>
<path d="M1474.3 2013.7V2113.2M1466.3 2013.7h16M1466.3 2113.2h16" stroke="#f040f0" stroke-width="2" opacity="0.55" fill="none"/>
<path d="M1482.4 2007.0V2090.5M1474.4 2007.0h16M1474.4 2090.5h16" stroke="#f040f0" stroke-width="2" opacity="0.55" fill="none"/>
<path d="M1490.6 1967.7V2073.4M1482.6 1967.7h16M1482.6 2073.4h16" stroke="#f040f0" stroke-width="2" opacity="0.55" fill="none"/>
<path d="M1498.8 1850.5V1950.3M1490.8 1850.5h16M1490.8 1950.3h16" stroke="#f040f0" stroke-width="2" opacity="0.55" fill="none"/>
<path d="M1506.9 1934.0V2038.5M1498.9 1934.0h16M1498.9 2038.5h16" stroke="#f040f0" stroke-width="2" opacity="0.55" fill="none"/>
<path d="M1515.1 1875.2V1972.2M1507.1 1875.2h16M1507.1 1972.2h16" stroke="#f040f0" stroke-width="2" opacity="0.55" fill="none"/>
<path d="M1523.3 1833.2V1930.9M1515.3 1833.2h16M1515.3 1930.9h16" stroke="#f040f0" stroke-width="2" opacity="0.55" fill="none"/>
<path d="M1531.4 1953.6V2063.0M1523.4 1953.6h16M1523.4 2063.0h16" stroke="#f040f0" stroke-width="2" opacity="0.55" fill="none"/>
<path d="M1539.6 1858.5V1959.5M1531.6 1858.5h16M1531.6 1959.5h16" stroke="#f040f0" stroke-width="2" opacity="0.55" fill="none"/>
<path d="M1547.8 1801.8V1908.4M1539.8 1801.8h16M1539.8 1908.4h16" stroke="#f040f0" stroke-width="2" opacity="0.55" fill="none"/>
<path d="M1555.9 1741.7V1875.3M1547.9 1741.7h16M1547.9 1875.3h16" stroke="#f040f0" stroke-width="2" opacity="0.55" fill="none"/>
<path d="M1564.1 1807.6V1932.0M1556.1 1807.6h16M1556.1 1932.0h16" stroke="#f040f0" stroke-width="2" opacity="0.55" fill="none"/>
<path d="M1572.3 1844.5V1949.1M1564.3 1844.5h16M1564.3 1949.1h16" stroke="#f040f0" stroke-width="2" opacity="0.55" fill="none"/>
<path d="M1580.4 1810.1V1936.8M1572.4 1810.1h16M1572.4 1936.8h16" stroke="#f040f0" stroke-width="2" opacity="0.55" fill="none"/>
<path d="M1588.6 1812.5V1927.1M1580.6 1812.5h16M1580.6 1927.1h16" stroke="#f040f0" stroke-width="2" opacity="0.55" fill="none"/>
<path d="M1596.8 1769.3V1891.8M1588.8 1769.3h16M1588.8 1891.8h16" stroke="#f040f0" stroke-width="2" opacity="0.55" fill="none"/>
<path d="M1604.9 1849.6V1951.3M1596.9 1849.6h16M1596.9 1951.3h16" stroke="#f040f0" stroke-width="2" opacity="0.55" fill="none"/>
<path d="M1613.1 1791.1V1919.0M1605.1 1791.1h16M1605.1 1919.0h16" stroke="#f040f0" stroke-width="2" opacity="0.55" fill="none"/>
<path d="M1621.3 1802.5V1922.4M1613.3 1802.5h16M1613.3 1922.4h16" stroke="#f040f0" stroke-width="2" opacity="0.55" fill="none"/>
<path d="M1629.5 1777.9V1907.8M1621.5 1777.9h16M1621.5 1907.8h16" stroke="#f040f0" stroke-width="2" opacity="0.55" fill="none"/>
<path d="M1637.6 1734.1V1865.8M1629.6 1734.1h16M1629.6 1865.8h16" stroke="#f040f0" stroke-width="2" opacity="0.55" fill="none"/>
<path d="M1645.8 1774.9V1886.3M1637.8 1774.9h16M1637.8 1886.3h16" stroke="#f040f0" stroke-width="2" opacity="0.55" fill="none"/>
<path d="M1654.0 1799.7V1910.5M1646.0 1799.7h16M1646.0 1910.5h16" stroke="#f040f0" stroke-width="2" opacity="0.55" fill="none"/>
<path d="M1662.1 1785.8V1892.5M1654.1 1785.8h16M1654.1 1892.5h16" stroke="#f040f0" stroke-width="2" opacity="0.55" fill="none"/>
<path d="M1670.3 1835.0V1936.5M1662.3 1835.0h16M1662.3 1936.5h16" stroke="#f040f0" stroke-width="2" opacity="0.55" fill="none"/>
<path d="M1678.5 1787.3V1891.0M1670.5 1787.3h16M1670.5 1891.0h16" stroke="#f040f0" stroke-width="2" opacity="0.55" fill="none"/>
<path d="M1686.6 1823.7V1930.6M1678.6 1823.7h16M1678.6 1930.6h16" stroke="#f040f0" stroke-width="2" opacity="0.55" fill="none"/>
<path d="M1694.8 1942.0V2045.2M1686.8 1942.0h16M1686.8 2045.2h16" stroke="#f040f0" stroke-width="2" opacity="0.55" fill="none"/>
<path d="M1703.0 1812.6V1912.2M1695.0 1812.6h16M1695.0 1912.2h16" stroke="#f040f0" stroke-width="2" opacity="0.55" fill="none"/>
<path d="M1711.1 1823.3V1940.8M1703.1 1823.3h16M1703.1 1940.8h16" stroke="#f040f0" stroke-width="2" opacity="0.55" fill="none"/>
<path d="M1719.3 1815.4V1924.2M1711.3 1815.4h16M1711.3 1924.2h16" stroke="#f040f0" stroke-width="2" opacity="0.55" fill="none"/>
<path d="M1727.5 1857.1V1961.0M1719.5 1857.1h16M1719.5 1961.0h16" stroke="#f040f0" stroke-width="2" opacity="0.55" fill="none"/>
<path d="M1735.6 1898.6V2012.5M1727.6 1898.6h16M1727.6 2012.5h16" stroke="#f040f0" stroke-width="2" opacity="0.55" fill="none"/>
<path d="M1743.8 1813.3V1926.3M1735.8 1813.3h16M1735.8 1926.3h16" stroke="#f040f0" stroke-width="2" opacity="0.55" fill="none"/>
<path d="M1752.0 1909.9V2008.6M1744.0 1909.9h16M1744.0 2008.6h16" stroke="#f040f0" stroke-width="2" opacity="0.55" fill="none"/>
<path d="M1760.1 1854.5V1963.5M1752.1 1854.5h16M1752.1 1963.5h16" stroke="#f040f0" stroke-width="2" opacity="0.55" fill="none"/>
<path d="M1768.3 1798.5V1919.1M1760.3 1798.5h16M1760.3 1919.1h16" stroke="#f040f0" stroke-width="2" opacity="0.55" fill="none"/>
<path d="M1776.5 1731.0V1839.5M1768.5 1731.0h16M1768.5 1839.5h16" stroke="#f040f0" stroke-width="2" opacity="0.55" fill="none"/>
<path d="M1784.6 1920.9V2036.8M1776.6 1920.9h16M1776.6 2036.8h16" stroke="#f040f0" stroke-width="2" opacity="0.55" fill="none"/>
<path d="M1792.8 1836.8V1934.7M1784.8 1836.8h16M1784.8 1934.7h16" stroke="#f040f0" stroke-width="2" opacity="0.55" fill="none"/>
<path d="M1801.0 1809.4V1930.2M1793.0 1809.4h16M1793.0 1930.2h16" stroke="#f040f0" stroke-width="2" opacity="0.55" fill="none"/>
<path d="M1809.1 1849.2V1968.8M1801.1 1849.2h16M1801.1 1968.8h16" stroke="#f040f0" stroke-width="2" opacity="0.55" fill="none"/>
<path d="M1817.3 1852.3V1948.5M1809.3 1852.3h16M1809.3 1948.5h16" stroke="#f040f0" stroke-width="2" opacity="0.55" fill="none"/>
<path d="M1825.5 1850.0V1968.0M1817.5 1850.0h16M1817.5 1968.0h16" stroke="#f040f0" stroke-width="2" opacity="0.55" fill="none"/>
<path d="M1833.7 1835.6V1943.2M1825.7 1835.6h16M1825.7 1943.2h16" stroke="#f040f0" stroke-width="2" opacity="0.55" fill="none"/>
<path d="M1841.8 1763.1V1883.4M1833.8 1763.1h16M1833.8 1883.4h16" stroke="#f040f0" stroke-width="2" opacity="0.55" fill="none"/>
<path d="M1850.0 1835.7V1933.3M1842.0 1835.7h16M1842.0 1933.3h16" stroke="#f040f0" stroke-width="2" opacity="0.55" fill="none"/>
<path d="M1858.2 1876.4V1971.0M1850.2 1876.4h16M1850.2 1971.0h16" stroke="#f040f0" stroke-width="2" opacity="0.55" fill="none"/>
<path d="M1866.3 1830.6V1933.5M1858.3 1830.6h16M1858.3 1933.5h16" stroke="#f040f0" stroke-width="2" opacity="0.55" fill="none"/>
<path d="M1874.5 1806.4V1933.2M1866.5 1806.4h16M1866.5 1933.2h16" stroke="#f040f0" stroke-width="2" opacity="0.55" fill="none"/>
<path d="M1882.7 1825.2V1929.1M1874.7 1825.2h16M1874.7 1929.1h16" stroke="#f040f0" stroke-width="2" opacity="0.55" fill="none"/>
<path d="M1890.8 1850.5V1967.5M1882.8 1850.5h16M1882.8 1967.5h16" stroke="#f040f0" stroke-width="2" opacity="0.55" fill="none"/>
<path d="M1899.0 1942.3V2054.6M1891.0 1942.3h16M1891.0 2054.6h16" stroke="#f040f0" stroke-width="2" opacity="0.55" fill="none"/>
<path d="M1907.2 1921.4V2036.3M1899.2 1921.4h16M1899.2 2036.3h16" stroke="#f040f0" stroke-width="2" opacity="0.55" fill="none"/>
<path d="M1915.3 1864.3V1968.5M1907.3 1864.3h16M1907.3 1968.5h16" stroke="#f040f0" stroke-width="2" opacity="0.55" fill="none"/>
<path d="M1923.5 1937.8V2034.6M1915.5 1937.8h16M1915.5 2034.6h16" stroke="#f040f0" stroke-width="2" opacity="0.55" fill="none"/>
<path d="M1931.7 1865.5V1974.6M1923.7 1865.5h16M1923.7 1974.6h16" stroke="#f040f0" stroke-width="2" opacity="0.55" fill="none"/>
<path d="M1939.8 1923.9V2033.9M1931.8 1923.9h16M1931.8 2033.9h16" stroke="#f040f0" stroke-width="2" opacity="0.55" fill="none"/>
<path d="M1948.0 1970.0V2056.4M1940.0 1970.0h16M1940.0 2056.4h16" stroke="#f040f0" stroke-width="2" opacity="0.55" fill="none"/>
<path d="M1956.2 1903.6V2015.0M1948.2 1903.6h16M1948.2 2015.0h16" stroke="#f040f0" stroke-width="2" opacity="0.55" fill="none"/>
<path d="M1964.3 1971.6V2076.9M1956.3 1971.6h16M1956.3 2076.9h16" stroke="#f040f0" stroke-width="2" opacity="0.55" fill="none"/>
<path d="M1972.5 1868.3V1986.5M1964.5 1868.3h16M1964.5 1986.5h16" stroke="#f040f0" stroke-width="2" opacity="0.55" fill="none"/>
<path d="M1980.7 1942.5V2030.0M1972.7 1942.5h16M1972.7 2030.0h16" stroke="#f040f0" stroke-width="2" opacity="0.55" fill="none"/>
<path d="M1988.8 1978.5V2087.1M1980.8 1978.5h16M1980.8 2087.1h16" stroke="#f040f0" stroke-width="2" opacity="0.55" fill="none"/>
<path d="M1997.0 2044.6V2121.5M1989.0 2044.6h16M1989.0 2121.5h16" stroke="#f040f0" stroke-width="2" opacity="0.55" fill="none"/>
<path d="M2005.2 1938.0V2034.4M1997.2 1938.0h16M1997.2 2034.4h16" stroke="#f040f0" stroke-width="2" opacity="0.55" fill="none"/>
<path d="M2013.3 2016.0V2110.9M2005.3 2016.0h16M2005.3 2110.9h16" stroke="#f040f0" stroke-width="2" opacity="0.55" fill="none"/>
<path d="M2021.5 1978.9V2086.7M2013.5 1978.9h16M2013.5 2086.7h16" stroke="#f040f0" stroke-width="2" opacity="0.55" fill="none"/>
<path d="M2029.7 2020.0V2106.9M2021.7 2020.0h16M2021.7 2106.9h16" stroke="#f040f0" stroke-width="2" opacity="0.55" fill="none"/>
<path d="M2037.9 2044.1V2144.1M2029.9 2044.1h16M2029.9 2144.1h16" stroke="#f040f0" stroke-width="2" opacity="0.55" fill="none"/>
<path d="M2046.0 2124.9V2203.0M2038.0 2124.9h16M2038.0 2203.0h16" stroke="#f040f0" stroke-width="2" opacity="0.55" fill="none"/>
<path d="M2054.2 2167.1V2231.9M2046.2 2167.1h16M2046.2 2231.9h16" stroke="#f040f0" stroke-width="2" opacity="0.55" fill="none"/>
<path d="M2062.4 2053.1V2135.1M2054.4 2053.1h16M2054.4 2135.1h16" stroke="#f040f0" stroke-width="2" opacity="0.55" fill="none"/>
<path d="M2070.5 1980.7V2067.8M2062.5 1980.7h16M2062.5 2067.8h16" stroke="#f040f0" stroke-width="2" opacity="0.55" fill="none"/>
<path d="M2078.7 2023.9V2103.0M2070.7 2023.9h16M2070.7 2103.0h16" stroke="#f040f0" stroke-width="2" opacity="0.55" fill="none"/>
<path d="M2086.9 2001.9V2085.7M2078.9 2001.9h16M2078.9 2085.7h16" stroke="#f040f0" stroke-width="2" opacity="0.55" fill="none"/>
<path d="M2095.0 2022.7V2118.9M2087.0 2022.7h16M2087.0 2118.9h16" stroke="#f040f0" stroke-width="2" opacity="0.55" fill="none"/>
<path d="M2103.2 1989.5V2098.2M2095.2 1989.5h16M2095.2 2098.2h16" stroke="#f040f0" stroke-width="2" opacity="0.55" fill="none"/>
<path d="M2111.4 2026.6V2107.7M2103.4 2026.6h16M2103.4 2107.7h16" stroke="#f040f0" stroke-width="2" opacity="0.55" fill="none"/>
<path d="M2119.5 2012.5V2092.3M2111.5 2012.5h16M2111.5 2092.3h16" stroke="#f040f0" stroke-width="2" opacity="0.55" fill="none"/>
<path d="M2127.7 2060.3V2159.8M2119.7 2060.3h16M2119.7 2159.8h16" stroke="#f040f0" stroke-width="2" opacity="0.55" fill="none"/>
<path d="M2135.9 2017.2V2109.7M2127.9 2017.2h16M2127.9 2109.7h16" stroke="#f040f0" stroke-width="2" opacity="0.55" fill="none"/>
<path d="M2144.0 2076.7V2158.0M2136.0 2076.7h16M2136.0 2158.0h16" stroke="#f040f0" stroke-width="2" opacity="0.55" fill="none"/>
<path d="M2152.2 2042.4V2123.7M2144.2 2042.4h16M2144.2 2123.7h16" stroke="#f040f0" stroke-width="2" opacity="0.55" fill="none"/>
<path d="M2160.4 2083.2V2168.7M2152.4 2083.2h16M2152.4 2168.7h16" stroke="#f040f0" stroke-width="2" opacity="0.55" fill="none"/>
<path d="M2168.5 2054.8V2150.6M2160.5 2054.8h16M2160.5 2150.6h16" stroke="#f040f0" stroke-width="2" opacity="0.55" fill="none"/>
<path d="M2176.7 2101.1V2180.3M2168.7 2101.1h16M2168.7 2180.3h16" stroke="#f040f0" stroke-width="2" opacity="0.55" fill="none"/>
<path d="M2184.9 2064.7V2148.0M2176.9 2064.7h16M2176.9 2148.0h16" stroke="#f040f0" stroke-width="2" opacity="0.55" fill="none"/>
<path d="M2193.0 2128.1V2192.4M2185.0 2128.1h16M2185.0 2192.4h16" stroke="#f040f0" stroke-width="2" opacity="0.55" fill="none"/>
<path d="M2201.2 2154.2V2237.5M2193.2 2154.2h16M2193.2 2237.5h16" stroke="#f040f0" stroke-width="2" opacity="0.55" fill="none"/>
<path d="M2209.4 2057.3V2130.9M2201.4 2057.3h16M2201.4 2130.9h16" stroke="#f040f0" stroke-width="2" opacity="0.55" fill="none"/>
<path d="M2217.5 2034.8V2124.0M2209.5 2034.8h16M2209.5 2124.0h16" stroke="#f040f0" stroke-width="2" opacity="0.55" fill="none"/>
<path d="M2225.7 2037.5V2135.9M2217.7 2037.5h16M2217.7 2135.9h16" stroke="#f040f0" stroke-width="2" opacity="0.55" fill="none"/>
<path d="M2233.9 2131.0V2196.9M2225.9 2131.0h16M2225.9 2196.9h16" stroke="#f040f0" stroke-width="2" opacity="0.55" fill="none"/>
<path d="M2242.1 2160.9V2238.1M2234.1 2160.9h16M2234.1 2238.1h16" stroke="#f040f0" stroke-width="2" opacity="0.55" fill="none"/>
<path d="M2250.2 2123.0V2212.3M2242.2 2123.0h16M2242.2 2212.3h16" stroke="#f040f0" stroke-width="2" opacity="0.55" fill="none"/>
<path d="M2258.4 2162.4V2236.6M2250.4 2162.4h16M2250.4 2236.6h16" stroke="#f040f0" stroke-width="2" opacity="0.55" fill="none"/>
<path d="M2266.6 2193.9V2266.4M2258.6 2193.9h16M2258.6 2266.4h16" stroke="#f040f0" stroke-width="2" opacity="0.55" fill="none"/>
<path d="M1310.9 2280.0V2312.7M1302.9 2280.0h16M1302.9 2312.7h16" stroke="#3838c8" stroke-width="2" opacity="0.55" fill="none"/>
<path d="M1319.1 2229.4V2284.9M1311.1 2229.4h16M1311.1 2284.9h16" stroke="#3838c8" stroke-width="2" opacity="0.55" fill="none"/>
<path d="M1327.2 2207.4V2260.2M1319.2 2207.4h16M1319.2 2260.2h16" stroke="#3838c8" stroke-width="2" opacity="0.55" fill="none"/>
<path d="M1335.4 2219.2V2287.7M1327.4 2219.2h16M1327.4 2287.7h16" stroke="#3838c8" stroke-width="2" opacity="0.55" fill="none"/>
<path d="M1343.6 2205.3V2262.4M1335.6 2205.3h16M1335.6 2262.4h16" stroke="#3838c8" stroke-width="2" opacity="0.55" fill="none"/>
<path d="M1351.7 2194.8V2258.2M1343.7 2194.8h16M1343.7 2258.2h16" stroke="#3838c8" stroke-width="2" opacity="0.55" fill="none"/>
<path d="M1359.9 2161.0V2245.3M1351.9 2161.0h16M1351.9 2245.3h16" stroke="#3838c8" stroke-width="2" opacity="0.55" fill="none"/>
<path d="M1368.1 2141.7V2225.4M1360.1 2141.7h16M1360.1 2225.4h16" stroke="#3838c8" stroke-width="2" opacity="0.55" fill="none"/>
<path d="M1376.2 2156.0V2240.6M1368.2 2156.0h16M1368.2 2240.6h16" stroke="#3838c8" stroke-width="2" opacity="0.55" fill="none"/>
<path d="M1384.4 2135.6V2209.5M1376.4 2135.6h16M1376.4 2209.5h16" stroke="#3838c8" stroke-width="2" opacity="0.55" fill="none"/>
<path d="M1392.6 2135.1V2210.0M1384.6 2135.1h16M1384.6 2210.0h16" stroke="#3838c8" stroke-width="2" opacity="0.55" fill="none"/>
<path d="M1400.7 2131.5V2213.5M1392.7 2131.5h16M1392.7 2213.5h16" stroke="#3838c8" stroke-width="2" opacity="0.55" fill="none"/>
<path d="M1408.9 2194.4V2258.6M1400.9 2194.4h16M1400.9 2258.6h16" stroke="#3838c8" stroke-width="2" opacity="0.55" fill="none"/>
<path d="M1417.1 2116.7V2189.1M1409.1 2116.7h16M1409.1 2189.1h16" stroke="#3838c8" stroke-width="2" opacity="0.55" fill="none"/>
<path d="M1425.3 2112.4V2188.5M1417.3 2112.4h16M1417.3 2188.5h16" stroke="#3838c8" stroke-width="2" opacity="0.55" fill="none"/>
<path d="M1433.4 2105.6V2175.7M1425.4 2105.6h16M1425.4 2175.7h16" stroke="#3838c8" stroke-width="2" opacity="0.55" fill="none"/>
<path d="M1441.6 1994.7V2085.7M1433.6 1994.7h16M1433.6 2085.7h16" stroke="#3838c8" stroke-width="2" opacity="0.55" fill="none"/>
<path d="M1449.8 2047.1V2148.4M1441.8 2047.1h16M1441.8 2148.4h16" stroke="#3838c8" stroke-width="2" opacity="0.55" fill="none"/>
<path d="M1457.9 2014.8V2119.4M1449.9 2014.8h16M1449.9 2119.4h16" stroke="#3838c8" stroke-width="2" opacity="0.55" fill="none"/>
<path d="M1466.1 2040.6V2132.8M1458.1 2040.6h16M1458.1 2132.8h16" stroke="#3838c8" stroke-width="2" opacity="0.55" fill="none"/>
<path d="M1474.3 1989.0V2084.0M1466.3 1989.0h16M1466.3 2084.0h16" stroke="#3838c8" stroke-width="2" opacity="0.55" fill="none"/>
<path d="M1482.4 1987.4V2078.2M1474.4 1987.4h16M1474.4 2078.2h16" stroke="#3838c8" stroke-width="2" opacity="0.55" fill="none"/>
<path d="M1490.6 1974.2V2059.6M1482.6 1974.2h16M1482.6 2059.6h16" stroke="#3838c8" stroke-width="2" opacity="0.55" fill="none"/>
<path d="M1498.8 1927.4V2023.0M1490.8 1927.4h16M1490.8 2023.0h16" stroke="#3838c8" stroke-width="2" opacity="0.55" fill="none"/>
<path d="M1506.9 1910.8V2022.4M1498.9 1910.8h16M1498.9 2022.4h16" stroke="#3838c8" stroke-width="2" opacity="0.55" fill="none"/>
<path d="M1515.1 1864.3V1983.1M1507.1 1864.3h16M1507.1 1983.1h16" stroke="#3838c8" stroke-width="2" opacity="0.55" fill="none"/>
<path d="M1523.3 1839.5V1946.6M1515.3 1839.5h16M1515.3 1946.6h16" stroke="#3838c8" stroke-width="2" opacity="0.55" fill="none"/>
<path d="M1531.4 1823.0V1943.6M1523.4 1823.0h16M1523.4 1943.6h16" stroke="#3838c8" stroke-width="2" opacity="0.55" fill="none"/>
<path d="M1539.6 1728.1V1857.0M1531.6 1728.1h16M1531.6 1857.0h16" stroke="#3838c8" stroke-width="2" opacity="0.55" fill="none"/>
<path d="M1547.8 1904.3V2014.2M1539.8 1904.3h16M1539.8 2014.2h16" stroke="#3838c8" stroke-width="2" opacity="0.55" fill="none"/>
<path d="M1555.9 1725.9V1851.9M1547.9 1725.9h16M1547.9 1851.9h16" stroke="#3838c8" stroke-width="2" opacity="0.55" fill="none"/>
<path d="M1564.1 1760.4V1886.0M1556.1 1760.4h16M1556.1 1886.0h16" stroke="#3838c8" stroke-width="2" opacity="0.55" fill="none"/>
<path d="M1572.3 1782.9V1895.4M1564.3 1782.9h16M1564.3 1895.4h16" stroke="#3838c8" stroke-width="2" opacity="0.55" fill="none"/>
<path d="M1580.4 1748.4V1873.5M1572.4 1748.4h16M1572.4 1873.5h16" stroke="#3838c8" stroke-width="2" opacity="0.55" fill="none"/>
<path d="M1588.6 1775.1V1886.0M1580.6 1775.1h16M1580.6 1886.0h16" stroke="#3838c8" stroke-width="2" opacity="0.55" fill="none"/>
<path d="M1596.8 1813.3V1926.3M1588.8 1813.3h16M1588.8 1926.3h16" stroke="#3838c8" stroke-width="2" opacity="0.55" fill="none"/>
<path d="M1604.9 1747.4V1874.5M1596.9 1747.4h16M1596.9 1874.5h16" stroke="#3838c8" stroke-width="2" opacity="0.55" fill="none"/>
<path d="M1613.1 1825.7V1943.3M1605.1 1825.7h16M1605.1 1943.3h16" stroke="#3838c8" stroke-width="2" opacity="0.55" fill="none"/>
<path d="M1621.3 1703.2V1820.7M1613.3 1703.2h16M1613.3 1820.7h16" stroke="#3838c8" stroke-width="2" opacity="0.55" fill="none"/>
<path d="M1629.5 1717.9V1852.5M1621.5 1717.9h16M1621.5 1852.5h16" stroke="#3838c8" stroke-width="2" opacity="0.55" fill="none"/>
<path d="M1637.6 1669.8V1800.2M1629.6 1669.8h16M1629.6 1800.2h16" stroke="#3838c8" stroke-width="2" opacity="0.55" fill="none"/>
<path d="M1645.8 1698.9V1824.9M1637.8 1698.9h16M1637.8 1824.9h16" stroke="#3838c8" stroke-width="2" opacity="0.55" fill="none"/>
<path d="M1654.0 1739.3V1845.8M1646.0 1739.3h16M1646.0 1845.8h16" stroke="#3838c8" stroke-width="2" opacity="0.55" fill="none"/>
<path d="M1662.1 1771.2V1889.9M1654.1 1771.2h16M1654.1 1889.9h16" stroke="#3838c8" stroke-width="2" opacity="0.55" fill="none"/>
<path d="M1670.3 1755.1V1866.9M1662.3 1755.1h16M1662.3 1866.9h16" stroke="#3838c8" stroke-width="2" opacity="0.55" fill="none"/>
<path d="M1678.5 1684.8V1814.6M1670.5 1684.8h16M1670.5 1814.6h16" stroke="#3838c8" stroke-width="2" opacity="0.55" fill="none"/>
<path d="M1686.6 1808.4V1921.3M1678.6 1808.4h16M1678.6 1921.3h16" stroke="#3838c8" stroke-width="2" opacity="0.55" fill="none"/>
<path d="M1694.8 1646.9V1783.9M1686.8 1646.9h16M1686.8 1783.9h16" stroke="#3838c8" stroke-width="2" opacity="0.55" fill="none"/>
<path d="M1703.0 1765.9V1887.9M1695.0 1765.9h16M1695.0 1887.9h16" stroke="#3838c8" stroke-width="2" opacity="0.55" fill="none"/>
<path d="M1711.1 1759.8V1886.6M1703.1 1759.8h16M1703.1 1886.6h16" stroke="#3838c8" stroke-width="2" opacity="0.55" fill="none"/>
<path d="M1719.3 1794.7V1905.7M1711.3 1794.7h16M1711.3 1905.7h16" stroke="#3838c8" stroke-width="2" opacity="0.55" fill="none"/>
<path d="M1727.5 1673.7V1803.6M1719.5 1673.7h16M1719.5 1803.6h16" stroke="#3838c8" stroke-width="2" opacity="0.55" fill="none"/>
<path d="M1735.6 1704.3V1834.3M1727.6 1704.3h16M1727.6 1834.3h16" stroke="#3838c8" stroke-width="2" opacity="0.55" fill="none"/>
<path d="M1743.8 1626.2V1765.2M1735.8 1626.2h16M1735.8 1765.2h16" stroke="#3838c8" stroke-width="2" opacity="0.55" fill="none"/>
<path d="M1752.0 1702.3V1821.5M1744.0 1702.3h16M1744.0 1821.5h16" stroke="#3838c8" stroke-width="2" opacity="0.55" fill="none"/>
<path d="M1760.1 1800.3V1924.6M1752.1 1800.3h16M1752.1 1924.6h16" stroke="#3838c8" stroke-width="2" opacity="0.55" fill="none"/>
<path d="M1768.3 1726.7V1858.4M1760.3 1726.7h16M1760.3 1858.4h16" stroke="#3838c8" stroke-width="2" opacity="0.55" fill="none"/>
<path d="M1776.5 1563.2V1703.2M1768.5 1563.2h16M1768.5 1703.2h16" stroke="#3838c8" stroke-width="2" opacity="0.55" fill="none"/>
<path d="M1784.6 1704.6V1841.3M1776.6 1704.6h16M1776.6 1841.3h16" stroke="#3838c8" stroke-width="2" opacity="0.55" fill="none"/>
<path d="M1792.8 1757.5V1888.9M1784.8 1757.5h16M1784.8 1888.9h16" stroke="#3838c8" stroke-width="2" opacity="0.55" fill="none"/>
<path d="M1801.0 1730.6V1852.1M1793.0 1730.6h16M1793.0 1852.1h16" stroke="#3838c8" stroke-width="2" opacity="0.55" fill="none"/>
<path d="M1809.1 1628.1V1758.5M1801.1 1628.1h16M1801.1 1758.5h16" stroke="#3838c8" stroke-width="2" opacity="0.55" fill="none"/>
<path d="M1817.3 1825.7V1928.6M1809.3 1825.7h16M1809.3 1928.6h16" stroke="#3838c8" stroke-width="2" opacity="0.55" fill="none"/>
<path d="M1825.5 1951.5V2060.2M1817.5 1951.5h16M1817.5 2060.2h16" stroke="#3838c8" stroke-width="2" opacity="0.55" fill="none"/>
<path d="M1833.7 1576.1V1722.2M1825.7 1576.1h16M1825.7 1722.2h16" stroke="#3838c8" stroke-width="2" opacity="0.55" fill="none"/>
<path d="M1841.8 1659.5V1785.9M1833.8 1659.5h16M1833.8 1785.9h16" stroke="#3838c8" stroke-width="2" opacity="0.55" fill="none"/>
<path d="M1850.0 1725.5V1852.3M1842.0 1725.5h16M1842.0 1852.3h16" stroke="#3838c8" stroke-width="2" opacity="0.55" fill="none"/>
<path d="M1858.2 1728.9V1856.2M1850.2 1728.9h16M1850.2 1856.2h16" stroke="#3838c8" stroke-width="2" opacity="0.55" fill="none"/>
<path d="M1866.3 1887.0V1999.7M1858.3 1887.0h16M1858.3 1999.7h16" stroke="#3838c8" stroke-width="2" opacity="0.55" fill="none"/>
<path d="M1874.5 1679.4V1795.5M1866.5 1679.4h16M1866.5 1795.5h16" stroke="#3838c8" stroke-width="2" opacity="0.55" fill="none"/>
<path d="M1882.7 1735.7V1864.1M1874.7 1735.7h16M1874.7 1864.1h16" stroke="#3838c8" stroke-width="2" opacity="0.55" fill="none"/>
<path d="M1890.8 1609.5V1742.8M1882.8 1609.5h16M1882.8 1742.8h16" stroke="#3838c8" stroke-width="2" opacity="0.55" fill="none"/>
<path d="M1899.0 1746.4V1870.6M1891.0 1746.4h16M1891.0 1870.6h16" stroke="#3838c8" stroke-width="2" opacity="0.55" fill="none"/>
<path d="M1907.2 1766.7V1882.2M1899.2 1766.7h16M1899.2 1882.2h16" stroke="#3838c8" stroke-width="2" opacity="0.55" fill="none"/>
<path d="M1915.3 1806.1V1923.7M1907.3 1806.1h16M1907.3 1923.7h16" stroke="#3838c8" stroke-width="2" opacity="0.55" fill="none"/>
<path d="M1923.5 1809.0V1930.6M1915.5 1809.0h16M1915.5 1930.6h16" stroke="#3838c8" stroke-width="2" opacity="0.55" fill="none"/>
<path d="M1931.7 1734.0V1858.5M1923.7 1734.0h16M1923.7 1858.5h16" stroke="#3838c8" stroke-width="2" opacity="0.55" fill="none"/>
<path d="M1939.8 1768.7V1892.5M1931.8 1768.7h16M1931.8 1892.5h16" stroke="#3838c8" stroke-width="2" opacity="0.55" fill="none"/>
<path d="M1948.0 1840.6V1938.2M1940.0 1840.6h16M1940.0 1938.2h16" stroke="#3838c8" stroke-width="2" opacity="0.55" fill="none"/>
<path d="M1956.2 1859.3V1958.8M1948.2 1859.3h16M1948.2 1958.8h16" stroke="#3838c8" stroke-width="2" opacity="0.55" fill="none"/>
<path d="M1964.3 1806.2V1918.7M1956.3 1806.2h16M1956.3 1918.7h16" stroke="#3838c8" stroke-width="2" opacity="0.55" fill="none"/>
<path d="M1972.5 1810.8V1928.8M1964.5 1810.8h16M1964.5 1928.8h16" stroke="#3838c8" stroke-width="2" opacity="0.55" fill="none"/>
<path d="M1980.7 1862.3V1963.1M1972.7 1862.3h16M1972.7 1963.1h16" stroke="#3838c8" stroke-width="2" opacity="0.55" fill="none"/>
<path d="M1988.8 1733.3V1859.2M1980.8 1733.3h16M1980.8 1859.2h16" stroke="#3838c8" stroke-width="2" opacity="0.55" fill="none"/>
<path d="M1997.0 1852.3V1965.7M1989.0 1852.3h16M1989.0 1965.7h16" stroke="#3838c8" stroke-width="2" opacity="0.55" fill="none"/>
<path d="M2005.2 2008.7V2088.8M1997.2 2008.7h16M1997.2 2088.8h16" stroke="#3838c8" stroke-width="2" opacity="0.55" fill="none"/>
<path d="M2013.3 1854.7V1963.4M2005.3 1854.7h16M2005.3 1963.4h16" stroke="#3838c8" stroke-width="2" opacity="0.55" fill="none"/>
<path d="M2021.5 1841.5V1944.6M2013.5 1841.5h16M2013.5 1944.6h16" stroke="#3838c8" stroke-width="2" opacity="0.55" fill="none"/>
<path d="M2029.7 1917.6V2008.2M2021.7 1917.6h16M2021.7 2008.2h16" stroke="#3838c8" stroke-width="2" opacity="0.55" fill="none"/>
<path d="M2037.9 1928.1V2019.8M2029.9 1928.1h16M2029.9 2019.8h16" stroke="#3838c8" stroke-width="2" opacity="0.55" fill="none"/>
<path d="M2046.0 2004.7V2092.8M2038.0 2004.7h16M2038.0 2092.8h16" stroke="#3838c8" stroke-width="2" opacity="0.55" fill="none"/>
<path d="M2054.2 2030.2V2111.4M2046.2 2030.2h16M2046.2 2111.4h16" stroke="#3838c8" stroke-width="2" opacity="0.55" fill="none"/>
<path d="M2062.4 2014.3V2097.9M2054.4 2014.3h16M2054.4 2097.9h16" stroke="#3838c8" stroke-width="2" opacity="0.55" fill="none"/>
<path d="M2070.5 2057.2V2131.0M2062.5 2057.2h16M2062.5 2131.0h16" stroke="#3838c8" stroke-width="2" opacity="0.55" fill="none"/>
<path d="M2078.7 2047.0V2133.9M2070.7 2047.0h16M2070.7 2133.9h16" stroke="#3838c8" stroke-width="2" opacity="0.55" fill="none"/>
<path d="M2086.9 2036.4V2122.4M2078.9 2036.4h16M2078.9 2122.4h16" stroke="#3838c8" stroke-width="2" opacity="0.55" fill="none"/>
<path d="M2095.0 2079.0V2165.6M2087.0 2079.0h16M2087.0 2165.6h16" stroke="#3838c8" stroke-width="2" opacity="0.55" fill="none"/>
<path d="M2103.2 2099.1V2182.3M2095.2 2099.1h16M2095.2 2182.3h16" stroke="#3838c8" stroke-width="2" opacity="0.55" fill="none"/>
<path d="M2111.4 2180.3V2240.8M2103.4 2180.3h16M2103.4 2240.8h16" stroke="#3838c8" stroke-width="2" opacity="0.55" fill="none"/>
<path d="M2119.5 2111.7V2201.5M2111.5 2111.7h16M2111.5 2201.5h16" stroke="#3838c8" stroke-width="2" opacity="0.55" fill="none"/>
<path d="M2127.7 2167.7V2224.0M2119.7 2167.7h16M2119.7 2224.0h16" stroke="#3838c8" stroke-width="2" opacity="0.55" fill="none"/>
<path d="M2135.9 2089.9V2169.4M2127.9 2089.9h16M2127.9 2169.4h16" stroke="#3838c8" stroke-width="2" opacity="0.55" fill="none"/>
<path d="M2144.0 2158.2V2223.6M2136.0 2158.2h16M2136.0 2223.6h16" stroke="#3838c8" stroke-width="2" opacity="0.55" fill="none"/>
<path d="M2152.2 2140.2V2212.2M2144.2 2140.2h16M2144.2 2212.2h16" stroke="#3838c8" stroke-width="2" opacity="0.55" fill="none"/>
<path d="M2160.4 2127.3V2193.3M2152.4 2127.3h16M2152.4 2193.3h16" stroke="#3838c8" stroke-width="2" opacity="0.55" fill="none"/>
<path d="M2168.5 2134.0V2218.4M2160.5 2134.0h16M2160.5 2218.4h16" stroke="#3838c8" stroke-width="2" opacity="0.55" fill="none"/>
<path d="M2176.7 2170.2V2236.1M2168.7 2170.2h16M2168.7 2236.1h16" stroke="#3838c8" stroke-width="2" opacity="0.55" fill="none"/>
<path d="M2184.9 2187.3V2241.1M2176.9 2187.3h16M2176.9 2241.1h16" stroke="#3838c8" stroke-width="2" opacity="0.55" fill="none"/>
<path d="M2193.0 2192.4V2260.5M2185.0 2192.4h16M2185.0 2260.5h16" stroke="#3838c8" stroke-width="2" opacity="0.55" fill="none"/>
<path d="M2201.2 2216.4V2265.9M2193.2 2216.4h16M2193.2 2265.9h16" stroke="#3838c8" stroke-width="2" opacity="0.55" fill="none"/>
<path d="M2209.4 2159.7V2232.0M2201.4 2159.7h16M2201.4 2232.0h16" stroke="#3838c8" stroke-width="2" opacity="0.55" fill="none"/>
<path d="M2217.5 2196.4V2256.5M2209.5 2196.4h16M2209.5 2256.5h16" stroke="#3838c8" stroke-width="2" opacity="0.55" fill="none"/>
<path d="M2225.7 2171.2V2242.5M2217.7 2171.2h16M2217.7 2242.5h16" stroke="#3838c8" stroke-width="2" opacity="0.55" fill="none"/>
<path d="M2233.9 2183.3V2262.3M2225.9 2183.3h16M2225.9 2262.3h16" stroke="#3838c8" stroke-width="2" opacity="0.55" fill="none"/>
<path d="M2242.1 2179.9V2255.9M2234.1 2179.9h16M2234.1 2255.9h16" stroke="#3838c8" stroke-width="2" opacity="0.55" fill="none"/>
<path d="M2250.2 2161.5V2230.2M2242.2 2161.5h16M2242.2 2230.2h16" stroke="#3838c8" stroke-width="2" opacity="0.55" fill="none"/>
<path d="M2258.4 2189.5V2263.5M2250.4 2189.5h16M2250.4 2263.5h16" stroke="#3838c8" stroke-width="2" opacity="0.55" fill="none"/>
<path d="M2266.6 2281.3V2326.1M2258.6 2281.3h16M2258.6 2326.1h16" stroke="#3838c8" stroke-width="2" opacity="0.55" fill="none"/>
<polyline points="1310.9,2296.3 1319.1,2269.4 1327.2,2253.4 1335.4,2269.4 1343.6,2210.5 1351.7,2264.5 1359.9,2241.2 1368.1,2226.5 1376.2,2210.5 1384.4,2199.5 1392.6,2187.3 1400.7,2244.9 1408.9,2187.3 1417.1,2122.3 1425.3,2117.4 1433.4,2102.7 1441.6,2113.7 1449.8,2094.1 1457.9,2079.4 1466.1,2179.9 1474.3,2063.5 1482.4,2048.7 1490.6,2020.6 1498.8,1900.4 1506.9,1986.2 1515.1,1923.7 1523.3,1882.1 1531.4,2008.3 1539.6,1909.0 1547.8,1855.1 1555.9,1808.5 1564.1,1869.8 1572.3,1896.8 1580.4,1873.5 1588.6,1869.8 1596.8,1830.6 1604.9,1900.4 1613.1,1855.1 1621.3,1862.4 1629.5,1842.8 1637.6,1799.9 1645.8,1830.6 1654.0,1855.1 1662.1,1839.2 1670.3,1885.7 1678.5,1839.2 1686.6,1877.1 1694.8,1993.6 1703.0,1862.4 1711.1,1882.1 1719.3,1869.8 1727.5,1909.0 1735.6,1955.6 1743.8,1869.8 1752.0,1959.3 1760.1,1909.0 1768.3,1858.8 1776.5,1785.2 1784.6,1978.9 1792.8,1885.7 1801.0,1869.8 1809.1,1909.0 1817.3,1900.4 1825.5,1909.0 1833.7,1889.4 1841.8,1823.2 1850.0,1884.5 1858.2,1923.7 1866.3,1882.1 1874.5,1869.8 1882.7,1877.1 1890.8,1909.0 1899.0,1998.5 1907.2,1978.9 1915.3,1916.4 1923.5,1986.2 1931.7,1920.0 1939.8,1978.9 1948.0,2013.2 1956.2,1959.3 1964.3,2024.2 1972.5,1927.4 1980.7,1986.2 1988.8,2032.8 1997.0,2083.1 2005.2,1986.2 2013.3,2063.5 2021.5,2032.8 2029.7,2063.5 2037.9,2094.1 2046.0,2164.0 2054.2,2199.5 2062.4,2094.1 2070.5,2024.2 2078.7,2063.5 2086.9,2043.8 2095.0,2070.8 2103.2,2043.8 2111.4,2067.1 2119.5,2052.4 2127.7,2110.0 2135.9,2063.5 2144.0,2117.4 2152.2,2083.1 2160.4,2126.0 2168.5,2102.7 2176.7,2140.7 2184.9,2106.4 2193.0,2160.3 2201.2,2195.8 2209.4,2094.1 2217.5,2079.4 2225.7,2086.7 2233.9,2164.0 2242.1,2199.5 2250.2,2167.6 2258.4,2199.5 2266.6,2230.1" fill="none" stroke="#f018f0" stroke-width="4" stroke-linejoin="round"/>
<polyline points="1310.9,2296.3 1319.1,2257.1 1327.2,2233.8 1335.4,2253.4 1343.6,2233.8 1351.7,2226.5 1359.9,2203.2 1368.1,2183.6 1376.2,2198.3 1384.4,2172.5 1392.6,2172.5 1400.7,2172.5 1408.9,2226.5 1417.1,2152.9 1425.3,2150.5 1433.4,2140.7 1441.6,2040.2 1449.8,2097.8 1457.9,2067.1 1466.1,2086.7 1474.3,2036.5 1482.4,2032.8 1490.6,2016.9 1498.8,1975.2 1506.9,1966.6 1515.1,1923.7 1523.3,1893.1 1531.4,1883.3 1539.6,1792.6 1547.8,1959.3 1555.9,1788.9 1564.1,1823.2 1572.3,1839.2 1580.4,1811.0 1588.6,1830.6 1596.8,1869.8 1604.9,1811.0 1613.1,1884.5 1621.3,1761.9 1629.5,1785.2 1637.6,1735.0 1645.8,1761.9 1654.0,1792.6 1662.1,1830.6 1670.3,1811.0 1678.5,1749.7 1686.6,1864.9 1694.8,1715.4 1703.0,1826.9 1711.1,1823.2 1719.3,1850.2 1727.5,1738.6 1735.6,1769.3 1743.8,1695.7 1752.0,1761.9 1760.1,1862.4 1768.3,1792.6 1776.5,1633.2 1784.6,1773.0 1792.8,1823.2 1801.0,1791.3 1809.1,1693.3 1817.3,1877.1 1825.5,2005.8 1833.7,1649.2 1841.8,1722.7 1850.0,1788.9 1858.2,1792.6 1866.3,1943.3 1874.5,1737.4 1882.7,1799.9 1890.8,1676.1 1899.0,1808.5 1907.2,1824.4 1915.3,1864.9 1923.5,1869.8 1931.7,1796.3 1939.8,1830.6 1948.0,1889.4 1956.2,1909.0 1964.3,1862.4 1972.5,1869.8 1980.7,1912.7 1988.8,1796.3 1997.0,1909.0 2005.2,2048.7 2013.3,1909.0 2021.5,1893.1 2029.7,1962.9 2037.9,1974.0 2046.0,2048.7 2054.2,2070.8 2062.4,2056.1 2070.5,2094.1 2078.7,2090.4 2086.9,2079.4 2095.0,2122.3 2103.2,2140.7 2111.4,2210.5 2119.5,2156.6 2127.7,2195.8 2135.9,2129.6 2144.0,2190.9 2152.2,2176.2 2160.4,2160.3 2168.5,2176.2 2176.7,2203.2 2184.9,2214.2 2193.0,2226.5 2201.2,2241.2 2209.4,2195.8 2217.5,2226.5 2225.7,2206.9 2233.9,2222.8 2242.1,2217.9 2250.2,2195.8 2258.4,2226.5 2266.6,2303.7" fill="none" stroke="#1010e0" stroke-width="4.6" stroke-linejoin="round"/>
</svg></body></html>
